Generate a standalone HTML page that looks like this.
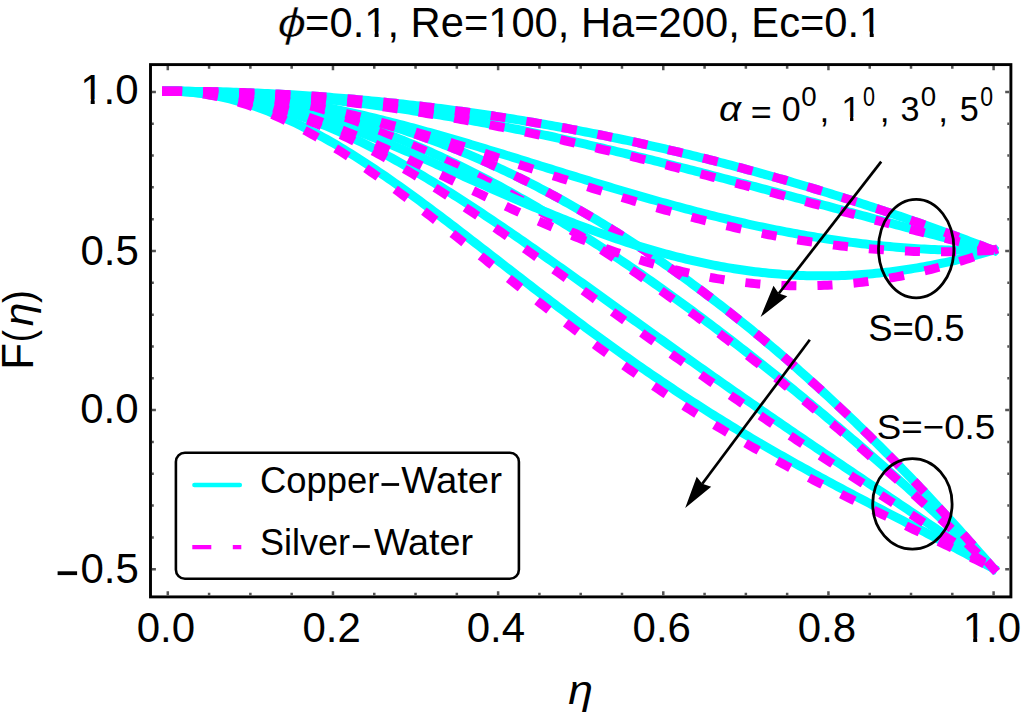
<!DOCTYPE html><html><head><meta charset='utf-8'><style>html,body{margin:0;padding:0;background:#fff;overflow:hidden;}svg{display:block}</style></head><body>
<svg width='1024' height='717' viewBox='0 0 1024 717'>
<rect width='1024' height='717' fill='#fff'/>
<text stroke='#fff' stroke-width='0.5' transform='matrix(1.2289,0,0,0.9605,277.46,37.30)' font-family='Liberation Sans' font-size='42' font-style='italic'>ϕ</text>
<g transform='matrix(0.9931,0,0,1.0084,305.11,36.50)'><text font-family='Liberation Sans' font-size='42' >=0.1, Re=100, Ha=200, Ec=0.1</text><rect x='61.35' y='-5' width='8.65' height='5.8' fill='#fff'/><rect x='74.00' y='-5' width='8.55' height='5.8' fill='#fff'/><rect x='186.25' y='-5' width='8.65' height='5.8' fill='#fff'/><rect x='198.90' y='-5' width='8.55' height='5.8' fill='#fff'/><rect x='559.88' y='-5' width='8.65' height='5.8' fill='#fff'/><rect x='572.53' y='-5' width='8.55' height='5.8' fill='#fff'/></g>
<path fill='none' stroke='#00ffff' stroke-width='9.0' stroke-linecap='square' stroke-linejoin='round' d='M167.60,91.20 L171.06,91.21 L174.51,91.23 L177.97,91.28 L181.42,91.33 L184.88,91.41 L188.33,91.50 L191.79,91.61 L195.24,91.73 L198.70,91.88 L202.15,92.04 L205.61,92.21 L209.06,92.40 L212.52,92.61 L215.97,92.84 L219.43,93.08 L222.88,93.34 L226.34,93.61 L229.79,93.91 L233.25,94.22 L236.70,94.54 L240.16,94.88 L243.62,95.24 L247.07,95.62 L250.53,96.01 L253.98,96.42 L257.44,96.85 L260.89,97.29 L264.35,97.75 L267.80,98.23 L271.26,98.72 L274.71,99.23 L278.17,99.76 L281.62,100.30 L285.08,100.86 L288.53,101.44 L291.99,102.03 L295.44,102.64 L298.90,103.27 L302.35,103.91 L305.81,104.57 L309.26,105.25 L312.72,105.94 L316.17,106.65 L319.63,107.38 L323.09,108.12 L326.54,108.88 L330.00,109.66 L333.45,110.45 L336.91,111.26 L340.36,112.09 L343.82,112.93 L347.27,113.79 L350.73,114.67 L354.18,115.57 L357.64,116.48 L361.09,117.40 L364.55,118.35 L368.00,119.31 L371.46,120.29 L374.91,121.28 L378.37,122.29 L381.82,123.32 L385.28,124.36 L388.73,125.43 L392.19,126.50 L395.65,127.60 L399.10,128.71 L402.56,129.84 L406.01,130.98 L409.47,132.14 L412.92,133.32 L416.38,134.52 L419.83,135.73 L423.29,136.96 L426.74,138.20 L430.20,139.46 L433.65,140.74 L437.11,142.04 L440.56,143.35 L444.02,144.68 L447.47,146.02 L450.93,147.39 L454.38,148.76 L457.84,150.16 L461.29,151.57 L464.75,153.00 L468.21,154.45 L471.66,155.91 L475.12,157.39 L478.57,158.88 L482.03,160.40 L485.48,161.92 L488.94,163.47 L492.39,165.03 L495.85,166.61 L499.30,168.21 L502.76,169.82 L506.21,171.45 L509.67,173.10 L513.12,174.76 L516.58,176.44 L520.03,178.14 L523.49,179.85 L526.94,181.58 L530.40,183.32 L533.85,185.09 L537.31,186.87 L540.76,188.66 L544.22,190.48 L547.68,192.31 L551.13,194.15 L554.59,196.02 L558.04,197.90 L561.50,199.79 L564.95,201.71 L568.41,203.64 L571.86,205.58 L575.32,207.55 L578.77,209.53 L582.23,211.53 L585.68,213.54 L589.14,215.57 L592.59,217.62 L596.05,219.68 L599.50,221.76 L602.96,223.86 L606.41,225.97 L609.87,228.10 L613.32,230.25 L616.78,232.42 L620.24,234.60 L623.69,236.79 L627.15,239.01 L630.60,241.24 L634.06,243.49 L637.51,245.75 L640.97,248.03 L644.42,250.33 L647.88,252.65 L651.33,254.98 L654.79,257.32 L658.24,259.69 L661.70,262.07 L665.15,264.47 L668.61,266.88 L672.06,269.32 L675.52,271.76 L678.97,274.23 L682.43,276.71 L685.88,279.21 L689.34,281.72 L692.79,284.26 L696.25,286.80 L699.71,289.37 L703.16,291.95 L706.62,294.55 L710.07,297.17 L713.53,299.80 L716.98,302.45 L720.44,305.11 L723.89,307.79 L727.35,310.49 L730.80,313.21 L734.26,315.94 L737.71,318.69 L741.17,321.46 L744.62,324.24 L748.08,327.04 L751.53,329.85 L754.99,332.69 L758.44,335.54 L761.90,338.40 L765.35,341.29 L768.81,344.18 L772.27,347.10 L775.72,350.03 L779.18,352.98 L782.63,355.95 L786.09,358.93 L789.54,361.93 L793.00,364.95 L796.45,367.98 L799.91,371.03 L803.36,374.10 L806.82,377.18 L810.27,380.28 L813.73,383.40 L817.18,386.53 L820.64,389.68 L824.09,392.85 L827.55,396.03 L831.00,399.23 L834.46,402.45 L837.91,405.68 L841.37,408.93 L844.83,412.20 L848.28,415.49 L851.74,418.79 L855.19,422.10 L858.65,425.44 L862.10,428.79 L865.56,432.16 L869.01,435.54 L872.47,438.94 L875.92,442.36 L879.38,445.79 L882.83,449.24 L886.29,452.71 L889.74,456.20 L893.20,459.70 L896.65,463.22 L900.11,466.75 L903.56,470.30 L907.02,473.87 L910.47,477.45 L913.93,481.06 L917.38,484.67 L920.84,488.31 L924.30,491.96 L927.75,495.63 L931.21,499.31 L934.66,503.01 L938.12,506.73 L941.57,510.47 L945.03,514.22 L948.48,517.99 L951.94,521.77 L955.39,525.58 L958.85,529.39 L962.30,533.23 L965.76,537.08 L969.21,540.95 L972.67,544.84 L976.12,548.74 L979.58,552.66 L983.03,556.59 L986.49,560.55 L989.94,564.51 L993.40,568.50'/>
<path fill='none' stroke='#00ffff' stroke-width='9.0' stroke-linecap='square' stroke-linejoin='round' d='M167.60,91.20 L171.06,91.21 L174.51,91.24 L177.97,91.30 L181.42,91.37 L184.88,91.47 L188.33,91.59 L191.79,91.74 L195.24,91.90 L198.70,92.09 L202.15,92.29 L205.61,92.52 L209.06,92.77 L212.52,93.05 L215.97,93.34 L219.43,93.66 L222.88,94.00 L226.34,94.35 L229.79,94.74 L233.25,95.14 L236.70,95.56 L240.16,96.01 L243.62,96.48 L247.07,96.97 L250.53,97.48 L253.98,98.01 L257.44,98.56 L260.89,99.13 L264.35,99.73 L267.80,100.35 L271.26,100.98 L274.71,101.64 L278.17,102.32 L281.62,103.02 L285.08,103.74 L288.53,104.49 L291.99,105.25 L295.44,106.03 L298.90,106.84 L302.35,107.66 L305.81,108.51 L309.26,109.38 L312.72,110.26 L316.17,111.17 L319.63,112.10 L323.09,113.04 L326.54,114.01 L330.00,115.00 L333.45,116.01 L336.91,117.03 L340.36,118.08 L343.82,119.15 L347.27,120.24 L350.73,121.34 L354.18,122.47 L357.64,123.61 L361.09,124.78 L364.55,125.96 L368.00,127.16 L371.46,128.39 L374.91,129.63 L378.37,130.89 L381.82,132.16 L385.28,133.46 L388.73,134.78 L392.19,136.11 L395.65,137.46 L399.10,138.83 L402.56,140.22 L406.01,141.63 L409.47,143.06 L412.92,144.50 L416.38,145.96 L419.83,147.44 L423.29,148.93 L426.74,150.45 L430.20,151.98 L433.65,153.53 L437.11,155.09 L440.56,156.68 L444.02,158.28 L447.47,159.89 L450.93,161.53 L454.38,163.18 L457.84,164.84 L461.29,166.53 L464.75,168.23 L468.21,169.94 L471.66,171.67 L475.12,173.42 L478.57,175.18 L482.03,176.96 L485.48,178.76 L488.94,180.57 L492.39,182.40 L495.85,184.24 L499.30,186.09 L502.76,187.97 L506.21,189.85 L509.67,191.75 L513.12,193.67 L516.58,195.60 L520.03,197.55 L523.49,199.51 L526.94,201.49 L530.40,203.47 L533.85,205.48 L537.31,207.50 L540.76,209.53 L544.22,211.57 L547.68,213.63 L551.13,215.70 L554.59,217.79 L558.04,219.89 L561.50,222.00 L564.95,224.13 L568.41,226.27 L571.86,228.42 L575.32,230.59 L578.77,232.77 L582.23,234.96 L585.68,237.16 L589.14,239.38 L592.59,241.61 L596.05,243.85 L599.50,246.10 L602.96,248.36 L606.41,250.64 L609.87,252.93 L613.32,255.23 L616.78,257.55 L620.24,259.87 L623.69,262.21 L627.15,264.55 L630.60,266.91 L634.06,269.28 L637.51,271.66 L640.97,274.06 L644.42,276.46 L647.88,278.88 L651.33,281.30 L654.79,283.74 L658.24,286.18 L661.70,288.64 L665.15,291.11 L668.61,293.59 L672.06,296.08 L675.52,298.58 L678.97,301.09 L682.43,303.61 L685.88,306.14 L689.34,308.68 L692.79,311.23 L696.25,313.79 L699.71,316.36 L703.16,318.94 L706.62,321.53 L710.07,324.13 L713.53,326.74 L716.98,329.36 L720.44,331.98 L723.89,334.62 L727.35,337.27 L730.80,339.93 L734.26,342.59 L737.71,345.27 L741.17,347.95 L744.62,350.64 L748.08,353.35 L751.53,356.06 L754.99,358.78 L758.44,361.51 L761.90,364.25 L765.35,366.99 L768.81,369.75 L772.27,372.52 L775.72,375.29 L779.18,378.08 L782.63,380.87 L786.09,383.67 L789.54,386.48 L793.00,389.30 L796.45,392.12 L799.91,394.96 L803.36,397.81 L806.82,400.66 L810.27,403.52 L813.73,406.39 L817.18,409.27 L820.64,412.16 L824.09,415.06 L827.55,417.97 L831.00,420.88 L834.46,423.81 L837.91,426.74 L841.37,429.68 L844.83,432.63 L848.28,435.59 L851.74,438.56 L855.19,441.53 L858.65,444.52 L862.10,447.51 L865.56,450.52 L869.01,453.53 L872.47,456.55 L875.92,459.58 L879.38,462.62 L882.83,465.67 L886.29,468.73 L889.74,471.80 L893.20,474.88 L896.65,477.96 L900.11,481.06 L903.56,484.16 L907.02,487.28 L910.47,490.40 L913.93,493.54 L917.38,496.68 L920.84,499.83 L924.30,503.00 L927.75,506.17 L931.21,509.36 L934.66,512.55 L938.12,515.75 L941.57,518.97 L945.03,522.19 L948.48,525.43 L951.94,528.68 L955.39,531.93 L958.85,535.20 L962.30,538.48 L965.76,541.77 L969.21,545.07 L972.67,548.38 L976.12,551.71 L979.58,555.04 L983.03,558.39 L986.49,561.75 L989.94,565.12 L993.40,568.50'/>
<path fill='none' stroke='#00ffff' stroke-width='9.0' stroke-linecap='square' stroke-linejoin='round' d='M167.60,91.20 L171.06,91.22 L174.51,91.27 L177.97,91.36 L181.42,91.48 L184.88,91.63 L188.33,91.82 L191.79,92.04 L195.24,92.30 L198.70,92.60 L202.15,92.92 L205.61,93.28 L209.06,93.68 L212.52,94.11 L215.97,94.57 L219.43,95.06 L222.88,95.59 L226.34,96.16 L229.79,96.75 L233.25,97.38 L236.70,98.05 L240.16,98.74 L243.62,99.47 L247.07,100.23 L250.53,101.02 L253.98,101.85 L257.44,102.71 L260.89,103.60 L264.35,104.52 L267.80,105.47 L271.26,106.45 L274.71,107.46 L278.17,108.51 L281.62,109.58 L285.08,110.69 L288.53,111.82 L291.99,112.99 L295.44,114.18 L298.90,115.40 L302.35,116.66 L305.81,117.94 L309.26,119.24 L312.72,120.58 L316.17,121.95 L319.63,123.34 L323.09,124.76 L326.54,126.20 L330.00,127.67 L333.45,129.17 L336.91,130.69 L340.36,132.24 L343.82,133.82 L347.27,135.42 L350.73,137.04 L354.18,138.69 L357.64,140.36 L361.09,142.05 L364.55,143.77 L368.00,145.51 L371.46,147.28 L374.91,149.06 L378.37,150.87 L381.82,152.70 L385.28,154.55 L388.73,156.41 L392.19,158.30 L395.65,160.21 L399.10,162.14 L402.56,164.09 L406.01,166.06 L409.47,168.05 L412.92,170.05 L416.38,172.07 L419.83,174.11 L423.29,176.17 L426.74,178.24 L430.20,180.33 L433.65,182.43 L437.11,184.55 L440.56,186.69 L444.02,188.83 L447.47,191.00 L450.93,193.18 L454.38,195.37 L457.84,197.57 L461.29,199.79 L464.75,202.02 L468.21,204.27 L471.66,206.52 L475.12,208.79 L478.57,211.07 L482.03,213.35 L485.48,215.65 L488.94,217.96 L492.39,220.28 L495.85,222.61 L499.30,224.95 L502.76,227.30 L506.21,229.65 L509.67,232.02 L513.12,234.39 L516.58,236.77 L520.03,239.15 L523.49,241.55 L526.94,243.95 L530.40,246.35 L533.85,248.77 L537.31,251.18 L540.76,253.61 L544.22,256.04 L547.68,258.47 L551.13,260.91 L554.59,263.35 L558.04,265.80 L561.50,268.25 L564.95,270.71 L568.41,273.17 L571.86,275.63 L575.32,278.09 L578.77,280.56 L582.23,283.03 L585.68,285.50 L589.14,287.98 L592.59,290.45 L596.05,292.93 L599.50,295.41 L602.96,297.89 L606.41,300.37 L609.87,302.85 L613.32,305.33 L616.78,307.81 L620.24,310.29 L623.69,312.78 L627.15,315.26 L630.60,317.74 L634.06,320.22 L637.51,322.70 L640.97,325.18 L644.42,327.66 L647.88,330.14 L651.33,332.61 L654.79,335.09 L658.24,337.56 L661.70,340.03 L665.15,342.50 L668.61,344.97 L672.06,347.43 L675.52,349.90 L678.97,352.36 L682.43,354.82 L685.88,357.27 L689.34,359.73 L692.79,362.18 L696.25,364.63 L699.71,367.07 L703.16,369.52 L706.62,371.96 L710.07,374.40 L713.53,376.83 L716.98,379.26 L720.44,381.69 L723.89,384.12 L727.35,386.54 L730.80,388.96 L734.26,391.38 L737.71,393.79 L741.17,396.20 L744.62,398.61 L748.08,401.01 L751.53,403.41 L754.99,405.81 L758.44,408.21 L761.90,410.60 L765.35,412.99 L768.81,415.37 L772.27,417.75 L775.72,420.13 L779.18,422.51 L782.63,424.88 L786.09,427.25 L789.54,429.62 L793.00,431.98 L796.45,434.35 L799.91,436.71 L803.36,439.06 L806.82,441.42 L810.27,443.77 L813.73,446.12 L817.18,448.46 L820.64,450.81 L824.09,453.15 L827.55,455.49 L831.00,457.83 L834.46,460.17 L837.91,462.50 L841.37,464.84 L844.83,467.17 L848.28,469.50 L851.74,471.83 L855.19,474.16 L858.65,476.49 L862.10,478.81 L865.56,481.14 L869.01,483.47 L872.47,485.79 L875.92,488.12 L879.38,490.44 L882.83,492.77 L886.29,495.09 L889.74,497.42 L893.20,499.75 L896.65,502.08 L900.11,504.40 L903.56,506.74 L907.02,509.07 L910.47,511.40 L913.93,513.74 L917.38,516.07 L920.84,518.41 L924.30,520.75 L927.75,523.10 L931.21,525.45 L934.66,527.80 L938.12,530.15 L941.57,532.51 L945.03,534.87 L948.48,537.24 L951.94,539.61 L955.39,541.98 L958.85,544.36 L962.30,546.75 L965.76,549.14 L969.21,551.54 L972.67,553.94 L976.12,556.35 L979.58,558.76 L983.03,561.19 L986.49,563.62 L989.94,566.05 L993.40,568.50'/>
<path fill='none' stroke='#00ffff' stroke-width='9.0' stroke-linecap='square' stroke-linejoin='round' d='M167.60,91.20 L171.06,91.22 L174.51,91.30 L177.97,91.42 L181.42,91.59 L184.88,91.81 L188.33,92.07 L191.79,92.39 L195.24,92.75 L198.70,93.16 L202.15,93.62 L205.61,94.13 L209.06,94.69 L212.52,95.29 L215.97,95.94 L219.43,96.63 L222.88,97.37 L226.34,98.16 L229.79,99.00 L233.25,99.87 L236.70,100.80 L240.16,101.77 L243.62,102.78 L247.07,103.84 L250.53,104.94 L253.98,106.09 L257.44,107.28 L260.89,108.51 L264.35,109.78 L267.80,111.09 L271.26,112.45 L274.71,113.84 L278.17,115.28 L281.62,116.75 L285.08,118.27 L288.53,119.82 L291.99,121.41 L295.44,123.04 L298.90,124.70 L302.35,126.40 L305.81,128.13 L309.26,129.90 L312.72,131.71 L316.17,133.55 L319.63,135.42 L323.09,137.32 L326.54,139.25 L330.00,141.22 L333.45,143.21 L336.91,145.24 L340.36,147.29 L343.82,149.38 L347.27,151.49 L350.73,153.62 L354.18,155.79 L357.64,157.98 L361.09,160.19 L364.55,162.43 L368.00,164.69 L371.46,166.98 L374.91,169.28 L378.37,171.61 L381.82,173.96 L385.28,176.33 L388.73,178.72 L392.19,181.13 L395.65,183.56 L399.10,186.00 L402.56,188.46 L406.01,190.94 L409.47,193.43 L412.92,195.94 L416.38,198.46 L419.83,200.99 L423.29,203.54 L426.74,206.10 L430.20,208.67 L433.65,211.25 L437.11,213.85 L440.56,216.45 L444.02,219.06 L447.47,221.68 L450.93,224.31 L454.38,226.94 L457.84,229.58 L461.29,232.23 L464.75,234.88 L468.21,237.54 L471.66,240.20 L475.12,242.87 L478.57,245.54 L482.03,248.21 L485.48,250.89 L488.94,253.57 L492.39,256.24 L495.85,258.92 L499.30,261.60 L502.76,264.28 L506.21,266.96 L509.67,269.64 L513.12,272.32 L516.58,274.99 L520.03,277.66 L523.49,280.33 L526.94,283.00 L530.40,285.66 L533.85,288.32 L537.31,290.98 L540.76,293.63 L544.22,296.27 L547.68,298.91 L551.13,301.55 L554.59,304.18 L558.04,306.80 L561.50,309.41 L564.95,312.02 L568.41,314.63 L571.86,317.22 L575.32,319.81 L578.77,322.39 L582.23,324.96 L585.68,327.52 L589.14,330.07 L592.59,332.62 L596.05,335.15 L599.50,337.68 L602.96,340.20 L606.41,342.71 L609.87,345.20 L613.32,347.69 L616.78,350.17 L620.24,352.64 L623.69,355.10 L627.15,357.54 L630.60,359.98 L634.06,362.40 L637.51,364.82 L640.97,367.22 L644.42,369.62 L647.88,372.00 L651.33,374.37 L654.79,376.73 L658.24,379.08 L661.70,381.42 L665.15,383.74 L668.61,386.06 L672.06,388.36 L675.52,390.65 L678.97,392.93 L682.43,395.20 L685.88,397.46 L689.34,399.70 L692.79,401.94 L696.25,404.16 L699.71,406.38 L703.16,408.58 L706.62,410.77 L710.07,412.95 L713.53,415.11 L716.98,417.27 L720.44,419.42 L723.89,421.55 L727.35,423.68 L730.80,425.79 L734.26,427.89 L737.71,429.98 L741.17,432.07 L744.62,434.14 L748.08,436.20 L751.53,438.25 L754.99,440.29 L758.44,442.32 L761.90,444.34 L765.35,446.36 L768.81,448.36 L772.27,450.35 L775.72,452.34 L779.18,454.31 L782.63,456.28 L786.09,458.24 L789.54,460.18 L793.00,462.13 L796.45,464.06 L799.91,465.98 L803.36,467.90 L806.82,469.81 L810.27,471.71 L813.73,473.61 L817.18,475.50 L820.64,477.38 L824.09,479.25 L827.55,481.12 L831.00,482.98 L834.46,484.84 L837.91,486.69 L841.37,488.53 L844.83,490.37 L848.28,492.21 L851.74,494.04 L855.19,495.86 L858.65,497.69 L862.10,499.50 L865.56,501.32 L869.01,503.13 L872.47,504.93 L875.92,506.74 L879.38,508.54 L882.83,510.34 L886.29,512.13 L889.74,513.93 L893.20,515.72 L896.65,517.51 L900.11,519.31 L903.56,521.10 L907.02,522.89 L910.47,524.68 L913.93,526.47 L917.38,528.26 L920.84,530.05 L924.30,531.84 L927.75,533.64 L931.21,535.43 L934.66,537.23 L938.12,539.03 L941.57,540.84 L945.03,542.64 L948.48,544.45 L951.94,546.27 L955.39,548.09 L958.85,549.91 L962.30,551.74 L965.76,553.58 L969.21,555.42 L972.67,557.26 L976.12,559.12 L979.58,560.98 L983.03,562.85 L986.49,564.72 L989.94,566.61 L993.40,568.50'/>
<path fill='none' stroke='#ff00ff' stroke-width='9.0' stroke-linecap='butt' stroke-linejoin='round' stroke-dasharray='20 21.05 15.05 21.05 15.05 21.05 15.05 21.05 15.05 21.05 15.05 21.05 15.05 21.05 15.05 21.05 15.05 21.05 15.05 21.05 15.05 21.05 15.05 21.05 15.05 21.05 15.05 21.05 15.05 21.05 15.05 21.05 15.05 21.05 15.05 21.05 15.05 21.05 15.05 21.05 15.05 21.05 15.05 21.05 15.05 21.05 15.05 21.05 15.05 21.05 15.05 21.05 15.05 21.05 15.05 21.05 15.05 21.05 15.05 21.05 15.05 21.05 15.05 21.05 15.05 21.05 15.05 21.05 15.05 21.05 15.05 21.05 15.05 21.05 15.05 21.05 15.05 21.05 15.05 21.05 15.05 21.05 ' d='M162.10,91.19 L167.60,91.20 L171.06,91.21 L174.51,91.23 L177.97,91.28 L181.42,91.33 L184.88,91.41 L188.33,91.50 L191.79,91.61 L195.24,91.73 L198.70,91.88 L202.15,92.04 L205.61,92.21 L209.06,92.40 L212.52,92.61 L215.97,92.84 L219.43,93.08 L222.88,93.34 L226.34,93.61 L229.79,93.91 L233.25,94.22 L236.70,94.54 L240.16,94.88 L243.62,95.24 L247.07,95.62 L250.53,96.01 L253.98,96.42 L257.44,96.85 L260.89,97.29 L264.35,97.75 L267.80,98.23 L271.26,98.72 L274.71,99.23 L278.17,99.76 L281.62,100.30 L285.08,100.86 L288.53,101.44 L291.99,102.03 L295.44,102.64 L298.90,103.27 L302.35,103.91 L305.81,104.57 L309.26,105.25 L312.72,105.94 L316.17,106.65 L319.63,107.38 L323.09,108.12 L326.54,108.88 L330.00,109.66 L333.45,110.45 L336.91,111.26 L340.36,112.09 L343.82,112.93 L347.27,113.79 L350.73,114.67 L354.18,115.57 L357.64,116.48 L361.09,117.40 L364.55,118.35 L368.00,119.31 L371.46,120.29 L374.91,121.28 L378.37,122.29 L381.82,123.32 L385.28,124.36 L388.73,125.43 L392.19,126.50 L395.65,127.60 L399.10,128.71 L402.56,129.84 L406.01,130.98 L409.47,132.14 L412.92,133.32 L416.38,134.52 L419.83,135.73 L423.29,136.96 L426.74,138.20 L430.20,139.46 L433.65,140.74 L437.11,142.04 L440.56,143.35 L444.02,144.68 L447.47,146.02 L450.93,147.39 L454.38,148.76 L457.84,150.16 L461.29,151.57 L464.75,153.00 L468.21,154.45 L471.66,155.91 L475.12,157.39 L478.57,158.88 L482.03,160.40 L485.48,161.92 L488.94,163.47 L492.39,165.03 L495.85,166.61 L499.30,168.21 L502.76,169.82 L506.21,171.45 L509.67,173.10 L513.12,174.76 L516.58,176.44 L520.03,178.14 L523.49,179.85 L526.94,181.58 L530.40,183.32 L533.85,185.09 L537.31,186.87 L540.76,188.66 L544.22,190.48 L547.68,192.31 L551.13,194.15 L554.59,196.02 L558.04,197.90 L561.50,199.79 L564.95,201.71 L568.41,203.64 L571.86,205.58 L575.32,207.55 L578.77,209.53 L582.23,211.53 L585.68,213.54 L589.14,215.57 L592.59,217.62 L596.05,219.68 L599.50,221.76 L602.96,223.86 L606.41,225.97 L609.87,228.10 L613.32,230.25 L616.78,232.42 L620.24,234.60 L623.69,236.79 L627.15,239.01 L630.60,241.24 L634.06,243.49 L637.51,245.75 L640.97,248.03 L644.42,250.33 L647.88,252.65 L651.33,254.98 L654.79,257.32 L658.24,259.69 L661.70,262.07 L665.15,264.47 L668.61,266.88 L672.06,269.32 L675.52,271.76 L678.97,274.23 L682.43,276.71 L685.88,279.21 L689.34,281.72 L692.79,284.26 L696.25,286.80 L699.71,289.37 L703.16,291.95 L706.62,294.55 L710.07,297.17 L713.53,299.80 L716.98,302.45 L720.44,305.11 L723.89,307.79 L727.35,310.49 L730.80,313.21 L734.26,315.94 L737.71,318.69 L741.17,321.46 L744.62,324.24 L748.08,327.04 L751.53,329.85 L754.99,332.69 L758.44,335.54 L761.90,338.40 L765.35,341.29 L768.81,344.18 L772.27,347.10 L775.72,350.03 L779.18,352.98 L782.63,355.95 L786.09,358.93 L789.54,361.93 L793.00,364.95 L796.45,367.98 L799.91,371.03 L803.36,374.10 L806.82,377.18 L810.27,380.28 L813.73,383.40 L817.18,386.53 L820.64,389.68 L824.09,392.85 L827.55,396.03 L831.00,399.23 L834.46,402.45 L837.91,405.68 L841.37,408.93 L844.83,412.20 L848.28,415.49 L851.74,418.79 L855.19,422.10 L858.65,425.44 L862.10,428.79 L865.56,432.16 L869.01,435.54 L872.47,438.94 L875.92,442.36 L879.38,445.79 L882.83,449.24 L886.29,452.71 L889.74,456.20 L893.20,459.70 L896.65,463.22 L900.11,466.75 L903.56,470.30 L907.02,473.87 L910.47,477.45 L913.93,481.06 L917.38,484.67 L920.84,488.31 L924.30,491.96 L927.75,495.63 L931.21,499.31 L934.66,503.01 L938.12,506.73 L941.57,510.47 L945.03,514.22 L948.48,517.99 L951.94,521.77 L955.39,525.58 L958.85,529.39 L962.30,533.23 L965.76,537.08 L969.21,540.95 L972.67,544.84 L976.12,548.74 L979.58,552.66 L983.03,556.59 L986.49,560.55 L989.94,564.51 L993.40,568.50 L996.35,571.90'/>
<path fill='none' stroke='#ff00ff' stroke-width='9.0' stroke-linecap='butt' stroke-linejoin='round' stroke-dasharray='20 21.05 15.05 21.05 15.05 21.05 15.05 21.05 15.05 21.05 15.05 21.05 15.05 21.05 15.05 21.05 15.05 21.05 15.05 21.05 15.05 21.05 15.05 21.05 15.05 21.05 15.05 21.05 15.05 21.05 15.05 21.05 15.05 21.05 15.05 21.05 15.05 21.05 15.05 21.05 15.05 21.05 15.05 21.05 15.05 21.05 15.05 21.05 15.05 21.05 15.05 21.05 15.05 21.05 15.05 21.05 15.05 21.05 15.05 21.05 15.05 21.05 15.05 21.05 15.05 21.05 15.05 21.05 15.05 21.05 15.05 21.05 15.05 21.05 15.05 21.05 15.05 21.05 15.05 21.05 15.05 21.05 ' d='M162.10,91.18 L167.60,91.20 L171.06,91.21 L174.51,91.24 L177.97,91.30 L181.42,91.38 L184.88,91.48 L188.33,91.60 L191.79,91.75 L195.24,91.92 L198.70,92.11 L202.15,92.32 L205.61,92.55 L209.06,92.81 L212.52,93.09 L215.97,93.39 L219.43,93.71 L222.88,94.06 L226.34,94.43 L229.79,94.82 L233.25,95.23 L236.70,95.66 L240.16,96.12 L243.62,96.60 L247.07,97.10 L250.53,97.62 L253.98,98.16 L257.44,98.73 L260.89,99.32 L264.35,99.92 L267.80,100.55 L271.26,101.21 L274.71,101.88 L278.17,102.57 L281.62,103.29 L285.08,104.03 L288.53,104.79 L291.99,105.57 L295.44,106.37 L298.90,107.19 L302.35,108.03 L305.81,108.90 L309.26,109.78 L312.72,110.69 L316.17,111.61 L319.63,112.56 L323.09,113.53 L326.54,114.52 L330.00,115.52 L333.45,116.55 L336.91,117.60 L340.36,118.67 L343.82,119.76 L347.27,120.87 L350.73,121.99 L354.18,123.14 L357.64,124.31 L361.09,125.50 L364.55,126.70 L368.00,127.93 L371.46,129.18 L374.91,130.44 L378.37,131.72 L381.82,133.03 L385.28,134.35 L388.73,135.69 L392.19,137.05 L395.65,138.42 L399.10,139.82 L402.56,141.23 L406.01,142.67 L409.47,144.12 L412.92,145.58 L416.38,147.07 L419.83,148.57 L423.29,150.10 L426.74,151.63 L430.20,153.19 L433.65,154.76 L437.11,156.36 L440.56,157.96 L444.02,159.59 L447.47,161.23 L450.93,162.89 L454.38,164.56 L457.84,166.26 L461.29,167.96 L464.75,169.69 L468.21,171.43 L471.66,173.19 L475.12,174.96 L478.57,176.75 L482.03,178.55 L485.48,180.37 L488.94,182.21 L492.39,184.06 L495.85,185.92 L499.30,187.80 L502.76,189.70 L506.21,191.61 L509.67,193.53 L513.12,195.47 L516.58,197.43 L520.03,199.40 L523.49,201.38 L526.94,203.37 L530.40,205.39 L533.85,207.41 L537.31,209.45 L540.76,211.50 L544.22,213.57 L547.68,215.65 L551.13,217.74 L554.59,219.85 L558.04,221.96 L561.50,224.10 L564.95,226.24 L568.41,228.40 L571.86,230.57 L575.32,232.75 L578.77,234.95 L582.23,237.15 L585.68,239.37 L589.14,241.61 L592.59,243.85 L596.05,246.10 L599.50,248.37 L602.96,250.65 L606.41,252.94 L609.87,255.24 L613.32,257.56 L616.78,259.88 L620.24,262.22 L623.69,264.56 L627.15,266.92 L630.60,269.29 L634.06,271.67 L637.51,274.06 L640.97,276.46 L644.42,278.87 L647.88,281.30 L651.33,283.73 L654.79,286.17 L658.24,288.62 L661.70,291.09 L665.15,293.56 L668.61,296.04 L672.06,298.53 L675.52,301.04 L678.97,303.55 L682.43,306.07 L685.88,308.60 L689.34,311.14 L692.79,313.69 L696.25,316.25 L699.71,318.82 L703.16,321.40 L706.62,323.98 L710.07,326.58 L713.53,329.18 L716.98,331.80 L720.44,334.42 L723.89,337.05 L727.35,339.69 L730.80,342.34 L734.26,345.00 L737.71,347.67 L741.17,350.34 L744.62,353.02 L748.08,355.72 L751.53,358.42 L754.99,361.12 L758.44,363.84 L761.90,366.57 L765.35,369.30 L768.81,372.04 L772.27,374.79 L775.72,377.55 L779.18,380.32 L782.63,383.09 L786.09,385.88 L789.54,388.67 L793.00,391.47 L796.45,394.28 L799.91,397.09 L803.36,399.91 L806.82,402.75 L810.27,405.59 L813.73,408.43 L817.18,411.29 L820.64,414.15 L824.09,417.03 L827.55,419.91 L831.00,422.80 L834.46,425.69 L837.91,428.60 L841.37,431.51 L844.83,434.43 L848.28,437.36 L851.74,440.30 L855.19,443.24 L858.65,446.20 L862.10,449.16 L865.56,452.13 L869.01,455.11 L872.47,458.10 L875.92,461.09 L879.38,464.10 L882.83,467.11 L886.29,470.13 L889.74,473.16 L893.20,476.20 L896.65,479.25 L900.11,482.31 L903.56,485.37 L907.02,488.45 L910.47,491.53 L913.93,494.62 L917.38,497.73 L920.84,500.84 L924.30,503.96 L927.75,507.09 L931.21,510.23 L934.66,513.38 L938.12,516.54 L941.57,519.71 L945.03,522.89 L948.48,526.07 L951.94,529.27 L955.39,532.48 L958.85,535.70 L962.30,538.93 L965.76,542.17 L969.21,545.43 L972.67,548.69 L976.12,551.96 L979.58,555.25 L983.03,558.54 L986.49,561.85 L989.94,565.17 L993.40,568.50 L996.64,571.62'/>
<path fill='none' stroke='#ff00ff' stroke-width='9.0' stroke-linecap='butt' stroke-linejoin='round' stroke-dasharray='20 21.05 15.05 21.05 15.05 21.05 15.05 21.05 15.05 21.05 15.05 21.05 15.05 21.05 15.05 21.05 15.05 21.05 15.05 21.05 15.05 21.05 15.05 21.05 15.05 21.05 15.05 21.05 15.05 21.05 15.05 21.05 15.05 21.05 15.05 21.05 15.05 21.05 15.05 21.05 15.05 21.05 15.05 21.05 15.05 21.05 15.05 21.05 15.05 21.05 15.05 21.05 15.05 21.05 15.05 21.05 15.05 21.05 15.05 21.05 15.05 21.05 15.05 21.05 15.05 21.05 15.05 21.05 15.05 21.05 15.05 21.05 15.05 21.05 15.05 21.05 15.05 21.05 15.05 21.05 15.05 21.05 ' d='M162.10,91.17 L167.60,91.20 L171.06,91.22 L174.51,91.27 L177.97,91.36 L181.42,91.49 L184.88,91.66 L188.33,91.86 L191.79,92.09 L195.24,92.37 L198.70,92.68 L202.15,93.02 L205.61,93.41 L209.06,93.82 L212.52,94.28 L215.97,94.77 L219.43,95.29 L222.88,95.85 L226.34,96.45 L229.79,97.08 L233.25,97.74 L236.70,98.45 L240.16,99.18 L243.62,99.95 L247.07,100.75 L250.53,101.59 L253.98,102.47 L257.44,103.37 L260.89,104.31 L264.35,105.28 L267.80,106.29 L271.26,107.32 L274.71,108.39 L278.17,109.50 L281.62,110.63 L285.08,111.80 L288.53,112.99 L291.99,114.22 L295.44,115.48 L298.90,116.77 L302.35,118.08 L305.81,119.43 L309.26,120.81 L312.72,122.22 L316.17,123.65 L319.63,125.12 L323.09,126.61 L326.54,128.13 L330.00,129.67 L333.45,131.25 L336.91,132.85 L340.36,134.47 L343.82,136.12 L347.27,137.80 L350.73,139.50 L354.18,141.23 L357.64,142.98 L361.09,144.76 L364.55,146.56 L368.00,148.38 L371.46,150.22 L374.91,152.09 L378.37,153.98 L381.82,155.89 L385.28,157.82 L388.73,159.77 L392.19,161.75 L395.65,163.74 L399.10,165.75 L402.56,167.78 L406.01,169.83 L409.47,171.90 L412.92,173.98 L416.38,176.09 L419.83,178.21 L423.29,180.34 L426.74,182.49 L430.20,184.66 L433.65,186.85 L437.11,189.05 L440.56,191.26 L444.02,193.49 L447.47,195.73 L450.93,197.98 L454.38,200.25 L457.84,202.53 L461.29,204.82 L464.75,207.13 L468.21,209.44 L471.66,211.77 L475.12,214.11 L478.57,216.45 L482.03,218.81 L485.48,221.18 L488.94,223.55 L492.39,225.94 L495.85,228.33 L499.30,230.73 L502.76,233.14 L506.21,235.56 L509.67,237.98 L513.12,240.41 L516.58,242.85 L520.03,245.29 L523.49,247.74 L526.94,250.20 L530.40,252.65 L533.85,255.12 L537.31,257.59 L540.76,260.06 L544.22,262.53 L547.68,265.01 L551.13,267.50 L554.59,269.98 L558.04,272.47 L561.50,274.96 L564.95,277.45 L568.41,279.95 L571.86,282.44 L575.32,284.94 L578.77,287.44 L582.23,289.94 L585.68,292.44 L589.14,294.94 L592.59,297.44 L596.05,299.94 L599.50,302.44 L602.96,304.94 L606.41,307.44 L609.87,309.93 L613.32,312.43 L616.78,314.93 L620.24,317.42 L623.69,319.91 L627.15,322.40 L630.60,324.89 L634.06,327.37 L637.51,329.86 L640.97,332.34 L644.42,334.82 L647.88,337.29 L651.33,339.76 L654.79,342.23 L658.24,344.70 L661.70,347.16 L665.15,349.62 L668.61,352.08 L672.06,354.53 L675.52,356.98 L678.97,359.42 L682.43,361.86 L685.88,364.30 L689.34,366.73 L692.79,369.16 L696.25,371.58 L699.71,374.00 L703.16,376.42 L706.62,378.83 L710.07,381.24 L713.53,383.64 L716.98,386.04 L720.44,388.43 L723.89,390.82 L727.35,393.20 L730.80,395.58 L734.26,397.95 L737.71,400.32 L741.17,402.69 L744.62,405.05 L748.08,407.41 L751.53,409.76 L754.99,412.10 L758.44,414.45 L761.90,416.78 L765.35,419.12 L768.81,421.45 L772.27,423.77 L775.72,426.09 L779.18,428.40 L782.63,430.71 L786.09,433.02 L789.54,435.32 L793.00,437.62 L796.45,439.92 L799.91,442.21 L803.36,444.49 L806.82,446.78 L810.27,449.06 L813.73,451.33 L817.18,453.60 L820.64,455.87 L824.09,458.14 L827.55,460.40 L831.00,462.66 L834.46,464.92 L837.91,467.17 L841.37,469.42 L844.83,471.67 L848.28,473.91 L851.74,476.16 L855.19,478.40 L858.65,480.64 L862.10,482.87 L865.56,485.11 L869.01,487.34 L872.47,489.58 L875.92,491.81 L879.38,494.04 L882.83,496.27 L886.29,498.50 L889.74,500.73 L893.20,502.96 L896.65,505.19 L900.11,507.41 L903.56,509.64 L907.02,511.87 L910.47,514.10 L913.93,516.33 L917.38,518.57 L920.84,520.80 L924.30,523.04 L927.75,525.27 L931.21,527.51 L934.66,529.76 L938.12,532.00 L941.57,534.25 L945.03,536.50 L948.48,538.75 L951.94,541.01 L955.39,543.27 L958.85,545.54 L962.30,547.81 L965.76,550.09 L969.21,552.37 L972.67,554.65 L976.12,556.94 L979.58,559.24 L983.03,561.55 L986.49,563.86 L989.94,566.17 L993.40,568.50 L997.13,571.01'/>
<path fill='none' stroke='#ff00ff' stroke-width='9.0' stroke-linecap='butt' stroke-linejoin='round' stroke-dasharray='20 21.05 15.05 21.05 15.05 21.05 15.05 21.05 15.05 21.05 15.05 21.05 15.05 21.05 15.05 21.05 15.05 21.05 15.05 21.05 15.05 21.05 15.05 21.05 15.05 21.05 15.05 21.05 15.05 21.05 15.05 21.05 15.05 21.05 15.05 21.05 15.05 21.05 15.05 21.05 15.05 21.05 15.05 21.05 15.05 21.05 15.05 21.05 15.05 21.05 15.05 21.05 15.05 21.05 15.05 21.05 15.05 21.05 15.05 21.05 15.05 21.05 15.05 21.05 15.05 21.05 15.05 21.05 15.05 21.05 15.05 21.05 15.05 21.05 15.05 21.05 15.05 21.05 15.05 21.05 15.05 21.05 ' d='M162.10,91.16 L167.60,91.20 L171.06,91.23 L174.51,91.30 L177.97,91.44 L181.42,91.62 L184.88,91.86 L188.33,92.14 L191.79,92.48 L195.24,92.88 L198.70,93.32 L202.15,93.82 L205.61,94.36 L209.06,94.96 L212.52,95.61 L215.97,96.31 L219.43,97.06 L222.88,97.86 L226.34,98.71 L229.79,99.61 L233.25,100.55 L236.70,101.55 L240.16,102.59 L243.62,103.68 L247.07,104.82 L250.53,106.01 L253.98,107.24 L257.44,108.52 L260.89,109.84 L264.35,111.21 L267.80,112.62 L271.26,114.07 L274.71,115.57 L278.17,117.11 L281.62,118.69 L285.08,120.31 L288.53,121.98 L291.99,123.68 L295.44,125.42 L298.90,127.20 L302.35,129.02 L305.81,130.88 L309.26,132.77 L312.72,134.70 L316.17,136.66 L319.63,138.65 L323.09,140.68 L326.54,142.75 L330.00,144.84 L333.45,146.97 L336.91,149.12 L340.36,151.31 L343.82,153.52 L347.27,155.76 L350.73,158.03 L354.18,160.33 L357.64,162.65 L361.09,165.00 L364.55,167.37 L368.00,169.77 L371.46,172.19 L374.91,174.63 L378.37,177.09 L381.82,179.57 L385.28,182.07 L388.73,184.59 L392.19,187.13 L395.65,189.68 L399.10,192.25 L402.56,194.84 L406.01,197.44 L409.47,200.06 L412.92,202.69 L416.38,205.34 L419.83,207.99 L423.29,210.66 L426.74,213.34 L430.20,216.03 L433.65,218.72 L437.11,221.43 L440.56,224.14 L444.02,226.86 L447.47,229.59 L450.93,232.33 L454.38,235.06 L457.84,237.81 L461.29,240.56 L464.75,243.31 L468.21,246.06 L471.66,248.82 L475.12,251.58 L478.57,254.34 L482.03,257.10 L485.48,259.86 L488.94,262.62 L492.39,265.38 L495.85,268.13 L499.30,270.89 L502.76,273.64 L506.21,276.39 L509.67,279.14 L513.12,281.88 L516.58,284.62 L520.03,287.35 L523.49,290.08 L526.94,292.80 L530.40,295.52 L533.85,298.23 L537.31,300.93 L540.76,303.62 L544.22,306.31 L547.68,308.99 L551.13,311.66 L554.59,314.33 L558.04,316.98 L561.50,319.63 L564.95,322.26 L568.41,324.89 L571.86,327.51 L575.32,330.11 L578.77,332.71 L582.23,335.29 L585.68,337.87 L589.14,340.43 L592.59,342.98 L596.05,345.52 L599.50,348.05 L602.96,350.56 L606.41,353.07 L609.87,355.56 L613.32,358.04 L616.78,360.51 L620.24,362.96 L623.69,365.40 L627.15,367.83 L630.60,370.25 L634.06,372.65 L637.51,375.04 L640.97,377.42 L644.42,379.78 L647.88,382.14 L651.33,384.47 L654.79,386.80 L658.24,389.11 L661.70,391.40 L665.15,393.69 L668.61,395.96 L672.06,398.22 L675.52,400.46 L678.97,402.69 L682.43,404.91 L685.88,407.11 L689.34,409.30 L692.79,411.48 L696.25,413.65 L699.71,415.80 L703.16,417.94 L706.62,420.06 L710.07,422.17 L713.53,424.27 L716.98,426.36 L720.44,428.43 L723.89,430.50 L727.35,432.55 L730.80,434.58 L734.26,436.61 L737.71,438.62 L741.17,440.62 L744.62,442.61 L748.08,444.59 L751.53,446.56 L754.99,448.51 L758.44,450.45 L761.90,452.39 L765.35,454.31 L768.81,456.22 L772.27,458.12 L775.72,460.01 L779.18,461.89 L782.63,463.76 L786.09,465.62 L789.54,467.47 L793.00,469.31 L796.45,471.14 L799.91,472.97 L803.36,474.78 L806.82,476.59 L810.27,478.38 L813.73,480.17 L817.18,481.95 L820.64,483.72 L824.09,485.49 L827.55,487.25 L831.00,489.00 L834.46,490.74 L837.91,492.48 L841.37,494.21 L844.83,495.94 L848.28,497.66 L851.74,499.37 L855.19,501.08 L858.65,502.78 L862.10,504.48 L865.56,506.18 L869.01,507.87 L872.47,509.55 L875.92,511.24 L879.38,512.92 L882.83,514.59 L886.29,516.27 L889.74,517.94 L893.20,519.60 L896.65,521.27 L900.11,522.94 L903.56,524.60 L907.02,526.26 L910.47,527.92 L913.93,529.59 L917.38,531.25 L920.84,532.91 L924.30,534.57 L927.75,536.23 L931.21,537.90 L934.66,539.57 L938.12,541.23 L941.57,542.90 L945.03,544.58 L948.48,546.25 L951.94,547.93 L955.39,549.62 L958.85,551.31 L962.30,553.00 L965.76,554.70 L969.21,556.40 L972.67,558.11 L976.12,559.82 L979.58,561.54 L983.03,563.27 L986.49,565.01 L989.94,566.75 L993.40,568.50 L997.41,570.53'/>
<path fill='none' stroke='#00ffff' stroke-width='9.0' stroke-linecap='square' stroke-linejoin='round' d='M167.60,91.20 L171.06,91.20 L174.51,91.21 L177.97,91.23 L181.42,91.24 L184.88,91.27 L188.33,91.30 L191.79,91.34 L195.24,91.38 L198.70,91.43 L202.15,91.48 L205.61,91.54 L209.06,91.60 L212.52,91.67 L215.97,91.75 L219.43,91.83 L222.88,91.91 L226.34,92.00 L229.79,92.10 L233.25,92.21 L236.70,92.31 L240.16,92.43 L243.62,92.55 L247.07,92.67 L250.53,92.80 L253.98,92.94 L257.44,93.08 L260.89,93.23 L264.35,93.38 L267.80,93.54 L271.26,93.71 L274.71,93.88 L278.17,94.05 L281.62,94.23 L285.08,94.42 L288.53,94.61 L291.99,94.81 L295.44,95.01 L298.90,95.22 L302.35,95.44 L305.81,95.66 L309.26,95.88 L312.72,96.11 L316.17,96.35 L319.63,96.59 L323.09,96.84 L326.54,97.09 L330.00,97.35 L333.45,97.62 L336.91,97.89 L340.36,98.16 L343.82,98.44 L347.27,98.73 L350.73,99.02 L354.18,99.32 L357.64,99.63 L361.09,99.93 L364.55,100.25 L368.00,100.57 L371.46,100.90 L374.91,101.23 L378.37,101.56 L381.82,101.91 L385.28,102.25 L388.73,102.61 L392.19,102.97 L395.65,103.33 L399.10,103.70 L402.56,104.08 L406.01,104.46 L409.47,104.85 L412.92,105.24 L416.38,105.64 L419.83,106.04 L423.29,106.45 L426.74,106.87 L430.20,107.29 L433.65,107.71 L437.11,108.15 L440.56,108.58 L444.02,109.03 L447.47,109.47 L450.93,109.93 L454.38,110.39 L457.84,110.85 L461.29,111.32 L464.75,111.80 L468.21,112.28 L471.66,112.77 L475.12,113.26 L478.57,113.76 L482.03,114.27 L485.48,114.77 L488.94,115.29 L492.39,115.81 L495.85,116.34 L499.30,116.87 L502.76,117.41 L506.21,117.95 L509.67,118.50 L513.12,119.05 L516.58,119.61 L520.03,120.18 L523.49,120.75 L526.94,121.33 L530.40,121.91 L533.85,122.50 L537.31,123.09 L540.76,123.69 L544.22,124.29 L547.68,124.90 L551.13,125.52 L554.59,126.14 L558.04,126.77 L561.50,127.40 L564.95,128.04 L568.41,128.68 L571.86,129.33 L575.32,129.98 L578.77,130.64 L582.23,131.31 L585.68,131.98 L589.14,132.66 L592.59,133.34 L596.05,134.03 L599.50,134.72 L602.96,135.42 L606.41,136.12 L609.87,136.83 L613.32,137.55 L616.78,138.27 L620.24,139.00 L623.69,139.73 L627.15,140.47 L630.60,141.21 L634.06,141.96 L637.51,142.72 L640.97,143.48 L644.42,144.24 L647.88,145.02 L651.33,145.79 L654.79,146.57 L658.24,147.36 L661.70,148.16 L665.15,148.96 L668.61,149.76 L672.06,150.57 L675.52,151.39 L678.97,152.21 L682.43,153.04 L685.88,153.87 L689.34,154.71 L692.79,155.55 L696.25,156.40 L699.71,157.26 L703.16,158.12 L706.62,158.98 L710.07,159.86 L713.53,160.73 L716.98,161.62 L720.44,162.50 L723.89,163.40 L727.35,164.30 L730.80,165.20 L734.26,166.11 L737.71,167.03 L741.17,167.95 L744.62,168.88 L748.08,169.81 L751.53,170.75 L754.99,171.70 L758.44,172.65 L761.90,173.60 L765.35,174.56 L768.81,175.53 L772.27,176.50 L775.72,177.48 L779.18,178.46 L782.63,179.45 L786.09,180.44 L789.54,181.44 L793.00,182.45 L796.45,183.46 L799.91,184.48 L803.36,185.50 L806.82,186.53 L810.27,187.56 L813.73,188.60 L817.18,189.64 L820.64,190.69 L824.09,191.75 L827.55,192.81 L831.00,193.88 L834.46,194.95 L837.91,196.03 L841.37,197.11 L844.83,198.20 L848.28,199.30 L851.74,200.40 L855.19,201.50 L858.65,202.61 L862.10,203.73 L865.56,204.85 L869.01,205.98 L872.47,207.11 L875.92,208.25 L879.38,209.40 L882.83,210.55 L886.29,211.70 L889.74,212.87 L893.20,214.03 L896.65,215.21 L900.11,216.38 L903.56,217.57 L907.02,218.76 L910.47,219.95 L913.93,221.15 L917.38,222.36 L920.84,223.57 L924.30,224.79 L927.75,226.01 L931.21,227.24 L934.66,228.47 L938.12,229.71 L941.57,230.96 L945.03,232.21 L948.48,233.46 L951.94,234.72 L955.39,235.99 L958.85,237.26 L962.30,238.54 L965.76,239.83 L969.21,241.12 L972.67,242.41 L976.12,243.71 L979.58,245.02 L983.03,246.33 L986.49,247.65 L989.94,248.97 L993.40,250.30'/>
<path fill='none' stroke='#00ffff' stroke-width='9.0' stroke-linecap='square' stroke-linejoin='round' d='M167.60,91.20 L171.06,91.20 L174.51,91.22 L177.97,91.24 L181.42,91.26 L184.88,91.30 L188.33,91.34 L191.79,91.40 L195.24,91.46 L198.70,91.52 L202.15,91.60 L205.61,91.68 L209.06,91.78 L212.52,91.88 L215.97,91.98 L219.43,92.10 L222.88,92.22 L226.34,92.35 L229.79,92.49 L233.25,92.64 L236.70,92.80 L240.16,92.96 L243.62,93.13 L247.07,93.31 L250.53,93.49 L253.98,93.69 L257.44,93.89 L260.89,94.10 L264.35,94.32 L267.80,94.54 L271.26,94.78 L274.71,95.02 L278.17,95.27 L281.62,95.52 L285.08,95.79 L288.53,96.06 L291.99,96.34 L295.44,96.62 L298.90,96.92 L302.35,97.22 L305.81,97.53 L309.26,97.85 L312.72,98.17 L316.17,98.50 L319.63,98.84 L323.09,99.19 L326.54,99.54 L330.00,99.90 L333.45,100.27 L336.91,100.65 L340.36,101.03 L343.82,101.42 L347.27,101.82 L350.73,102.22 L354.18,102.63 L357.64,103.05 L361.09,103.47 L364.55,103.91 L368.00,104.35 L371.46,104.79 L374.91,105.25 L378.37,105.71 L381.82,106.17 L385.28,106.65 L388.73,107.13 L392.19,107.61 L395.65,108.11 L399.10,108.61 L402.56,109.12 L406.01,109.63 L409.47,110.15 L412.92,110.68 L416.38,111.21 L419.83,111.75 L423.29,112.29 L426.74,112.85 L430.20,113.40 L433.65,113.97 L437.11,114.54 L440.56,115.11 L444.02,115.70 L447.47,116.29 L450.93,116.88 L454.38,117.48 L457.84,118.09 L461.29,118.70 L464.75,119.32 L468.21,119.94 L471.66,120.57 L475.12,121.21 L478.57,121.85 L482.03,122.50 L485.48,123.15 L488.94,123.81 L492.39,124.47 L495.85,125.14 L499.30,125.81 L502.76,126.49 L506.21,127.18 L509.67,127.86 L513.12,128.56 L516.58,129.26 L520.03,129.96 L523.49,130.67 L526.94,131.39 L530.40,132.11 L533.85,132.83 L537.31,133.56 L540.76,134.29 L544.22,135.03 L547.68,135.77 L551.13,136.52 L554.59,137.27 L558.04,138.03 L561.50,138.79 L564.95,139.56 L568.41,140.33 L571.86,141.10 L575.32,141.88 L578.77,142.66 L582.23,143.44 L585.68,144.23 L589.14,145.03 L592.59,145.83 L596.05,146.63 L599.50,147.43 L602.96,148.24 L606.41,149.05 L609.87,149.87 L613.32,150.69 L616.78,151.51 L620.24,152.34 L623.69,153.17 L627.15,154.00 L630.60,154.84 L634.06,155.68 L637.51,156.53 L640.97,157.37 L644.42,158.22 L647.88,159.07 L651.33,159.93 L654.79,160.79 L658.24,161.65 L661.70,162.51 L665.15,163.38 L668.61,164.25 L672.06,165.12 L675.52,165.99 L678.97,166.87 L682.43,167.75 L685.88,168.63 L689.34,169.52 L692.79,170.40 L696.25,171.29 L699.71,172.18 L703.16,173.08 L706.62,173.97 L710.07,174.87 L713.53,175.77 L716.98,176.67 L720.44,177.57 L723.89,178.48 L727.35,179.38 L730.80,180.29 L734.26,181.20 L737.71,182.11 L741.17,183.02 L744.62,183.94 L748.08,184.85 L751.53,185.77 L754.99,186.69 L758.44,187.61 L761.90,188.53 L765.35,189.45 L768.81,190.37 L772.27,191.30 L775.72,192.22 L779.18,193.15 L782.63,194.07 L786.09,195.00 L789.54,195.93 L793.00,196.86 L796.45,197.79 L799.91,198.72 L803.36,199.65 L806.82,200.58 L810.27,201.51 L813.73,202.44 L817.18,203.37 L820.64,204.31 L824.09,205.24 L827.55,206.17 L831.00,207.11 L834.46,208.04 L837.91,208.97 L841.37,209.91 L844.83,210.84 L848.28,211.77 L851.74,212.71 L855.19,213.64 L858.65,214.57 L862.10,215.51 L865.56,216.44 L869.01,217.37 L872.47,218.30 L875.92,219.23 L879.38,220.16 L882.83,221.09 L886.29,222.02 L889.74,222.95 L893.20,223.88 L896.65,224.81 L900.11,225.73 L903.56,226.66 L907.02,227.58 L910.47,228.51 L913.93,229.43 L917.38,230.35 L920.84,231.27 L924.30,232.19 L927.75,233.11 L931.21,234.03 L934.66,234.95 L938.12,235.86 L941.57,236.78 L945.03,237.69 L948.48,238.60 L951.94,239.51 L955.39,240.42 L958.85,241.32 L962.30,242.23 L965.76,243.13 L969.21,244.03 L972.67,244.93 L976.12,245.83 L979.58,246.73 L983.03,247.63 L986.49,248.52 L989.94,249.41 L993.40,250.30'/>
<path fill='none' stroke='#00ffff' stroke-width='9.0' stroke-linecap='square' stroke-linejoin='round' d='M167.60,91.20 L171.06,91.21 L174.51,91.23 L177.97,91.27 L181.42,91.33 L184.88,91.40 L188.33,91.49 L191.79,91.59 L195.24,91.72 L198.70,91.85 L202.15,92.00 L205.61,92.17 L209.06,92.36 L212.52,92.56 L215.97,92.77 L219.43,93.01 L222.88,93.25 L226.34,93.52 L229.79,93.80 L233.25,94.09 L236.70,94.40 L240.16,94.73 L243.62,95.07 L247.07,95.42 L250.53,95.79 L253.98,96.18 L257.44,96.58 L260.89,96.99 L264.35,97.42 L267.80,97.87 L271.26,98.33 L274.71,98.80 L278.17,99.29 L281.62,99.79 L285.08,100.31 L288.53,100.84 L291.99,101.38 L295.44,101.94 L298.90,102.51 L302.35,103.09 L305.81,103.69 L309.26,104.30 L312.72,104.93 L316.17,105.56 L319.63,106.21 L323.09,106.88 L326.54,107.55 L330.00,108.24 L333.45,108.94 L336.91,109.65 L340.36,110.37 L343.82,111.10 L347.27,111.85 L350.73,112.61 L354.18,113.37 L357.64,114.15 L361.09,114.94 L364.55,115.74 L368.00,116.55 L371.46,117.37 L374.91,118.20 L378.37,119.04 L381.82,119.89 L385.28,120.75 L388.73,121.62 L392.19,122.50 L395.65,123.38 L399.10,124.28 L402.56,125.18 L406.01,126.10 L409.47,127.02 L412.92,127.94 L416.38,128.88 L419.83,129.82 L423.29,130.77 L426.74,131.73 L430.20,132.69 L433.65,133.66 L437.11,134.64 L440.56,135.63 L444.02,136.62 L447.47,137.61 L450.93,138.61 L454.38,139.62 L457.84,140.63 L461.29,141.65 L464.75,142.67 L468.21,143.69 L471.66,144.72 L475.12,145.76 L478.57,146.80 L482.03,147.84 L485.48,148.89 L488.94,149.94 L492.39,150.99 L495.85,152.04 L499.30,153.10 L502.76,154.16 L506.21,155.22 L509.67,156.29 L513.12,157.36 L516.58,158.42 L520.03,159.49 L523.49,160.57 L526.94,161.64 L530.40,162.71 L533.85,163.78 L537.31,164.86 L540.76,165.93 L544.22,167.01 L547.68,168.08 L551.13,169.16 L554.59,170.23 L558.04,171.30 L561.50,172.37 L564.95,173.45 L568.41,174.51 L571.86,175.58 L575.32,176.65 L578.77,177.71 L582.23,178.78 L585.68,179.84 L589.14,180.89 L592.59,181.95 L596.05,183.00 L599.50,184.05 L602.96,185.10 L606.41,186.14 L609.87,187.18 L613.32,188.21 L616.78,189.24 L620.24,190.27 L623.69,191.30 L627.15,192.31 L630.60,193.33 L634.06,194.34 L637.51,195.34 L640.97,196.34 L644.42,197.34 L647.88,198.33 L651.33,199.31 L654.79,200.29 L658.24,201.26 L661.70,202.23 L665.15,203.19 L668.61,204.14 L672.06,205.09 L675.52,206.03 L678.97,206.96 L682.43,207.89 L685.88,208.81 L689.34,209.72 L692.79,210.63 L696.25,211.52 L699.71,212.42 L703.16,213.30 L706.62,214.17 L710.07,215.04 L713.53,215.90 L716.98,216.75 L720.44,217.59 L723.89,218.43 L727.35,219.25 L730.80,220.07 L734.26,220.88 L737.71,221.67 L741.17,222.46 L744.62,223.25 L748.08,224.02 L751.53,224.78 L754.99,225.53 L758.44,226.28 L761.90,227.01 L765.35,227.73 L768.81,228.45 L772.27,229.15 L775.72,229.84 L779.18,230.53 L782.63,231.20 L786.09,231.86 L789.54,232.52 L793.00,233.16 L796.45,233.79 L799.91,234.41 L803.36,235.02 L806.82,235.62 L810.27,236.21 L813.73,236.78 L817.18,237.35 L820.64,237.91 L824.09,238.45 L827.55,238.98 L831.00,239.50 L834.46,240.01 L837.91,240.51 L841.37,241.00 L844.83,241.47 L848.28,241.94 L851.74,242.39 L855.19,242.83 L858.65,243.25 L862.10,243.67 L865.56,244.07 L869.01,244.47 L872.47,244.85 L875.92,245.21 L879.38,245.57 L882.83,245.91 L886.29,246.25 L889.74,246.56 L893.20,246.87 L896.65,247.17 L900.11,247.45 L903.56,247.72 L907.02,247.97 L910.47,248.22 L913.93,248.45 L917.38,248.67 L920.84,248.88 L924.30,249.07 L927.75,249.26 L931.21,249.43 L934.66,249.58 L938.12,249.73 L941.57,249.86 L945.03,249.98 L948.48,250.08 L951.94,250.18 L955.39,250.26 L958.85,250.32 L962.30,250.38 L965.76,250.42 L969.21,250.45 L972.67,250.47 L976.12,250.47 L979.58,250.46 L983.03,250.44 L986.49,250.41 L989.94,250.36 L993.40,250.30'/>
<path fill='none' stroke='#00ffff' stroke-width='9.0' stroke-linecap='square' stroke-linejoin='round' d='M167.60,91.20 L171.06,91.21 L174.51,91.26 L177.97,91.33 L181.42,91.43 L184.88,91.57 L188.33,91.73 L191.79,91.92 L195.24,92.14 L198.70,92.38 L202.15,92.66 L205.61,92.97 L209.06,93.30 L212.52,93.66 L215.97,94.05 L219.43,94.47 L222.88,94.92 L226.34,95.39 L229.79,95.89 L233.25,96.42 L236.70,96.98 L240.16,97.57 L243.62,98.18 L247.07,98.81 L250.53,99.48 L253.98,100.17 L257.44,100.88 L260.89,101.62 L264.35,102.39 L267.80,103.18 L271.26,104.00 L274.71,104.84 L278.17,105.70 L281.62,106.59 L285.08,107.50 L288.53,108.43 L291.99,109.39 L295.44,110.37 L298.90,111.37 L302.35,112.39 L305.81,113.43 L309.26,114.50 L312.72,115.58 L316.17,116.69 L319.63,117.81 L323.09,118.95 L326.54,120.11 L330.00,121.29 L333.45,122.49 L336.91,123.71 L340.36,124.94 L343.82,126.19 L347.27,127.46 L350.73,128.74 L354.18,130.03 L357.64,131.34 L361.09,132.67 L364.55,134.01 L368.00,135.36 L371.46,136.73 L374.91,138.10 L378.37,139.49 L381.82,140.90 L385.28,142.31 L388.73,143.73 L392.19,145.17 L395.65,146.61 L399.10,148.06 L402.56,149.52 L406.01,150.99 L409.47,152.47 L412.92,153.96 L416.38,155.45 L419.83,156.95 L423.29,158.45 L426.74,159.96 L430.20,161.47 L433.65,162.99 L437.11,164.52 L440.56,166.04 L444.02,167.57 L447.47,169.11 L450.93,170.64 L454.38,172.18 L457.84,173.71 L461.29,175.25 L464.75,176.79 L468.21,178.33 L471.66,179.87 L475.12,181.41 L478.57,182.95 L482.03,184.48 L485.48,186.01 L488.94,187.54 L492.39,189.07 L495.85,190.60 L499.30,192.12 L502.76,193.63 L506.21,195.14 L509.67,196.65 L513.12,198.15 L516.58,199.65 L520.03,201.13 L523.49,202.62 L526.94,204.09 L530.40,205.56 L533.85,207.02 L537.31,208.47 L540.76,209.92 L544.22,211.35 L547.68,212.78 L551.13,214.20 L554.59,215.60 L558.04,217.00 L561.50,218.39 L564.95,219.77 L568.41,221.13 L571.86,222.48 L575.32,223.83 L578.77,225.16 L582.23,226.47 L585.68,227.78 L589.14,229.07 L592.59,230.35 L596.05,231.62 L599.50,232.87 L602.96,234.11 L606.41,235.33 L609.87,236.54 L613.32,237.74 L616.78,238.92 L620.24,240.08 L623.69,241.23 L627.15,242.37 L630.60,243.49 L634.06,244.59 L637.51,245.68 L640.97,246.74 L644.42,247.80 L647.88,248.83 L651.33,249.85 L654.79,250.85 L658.24,251.84 L661.70,252.80 L665.15,253.75 L668.61,254.68 L672.06,255.59 L675.52,256.49 L678.97,257.36 L682.43,258.22 L685.88,259.06 L689.34,259.88 L692.79,260.68 L696.25,261.46 L699.71,262.22 L703.16,262.96 L706.62,263.68 L710.07,264.38 L713.53,265.07 L716.98,265.73 L720.44,266.37 L723.89,266.99 L727.35,267.59 L730.80,268.17 L734.26,268.73 L737.71,269.27 L741.17,269.79 L744.62,270.29 L748.08,270.77 L751.53,271.23 L754.99,271.66 L758.44,272.08 L761.90,272.47 L765.35,272.84 L768.81,273.19 L772.27,273.52 L775.72,273.83 L779.18,274.11 L782.63,274.38 L786.09,274.62 L789.54,274.84 L793.00,275.04 L796.45,275.22 L799.91,275.38 L803.36,275.52 L806.82,275.63 L810.27,275.72 L813.73,275.79 L817.18,275.84 L820.64,275.87 L824.09,275.87 L827.55,275.85 L831.00,275.82 L834.46,275.76 L837.91,275.67 L841.37,275.57 L844.83,275.44 L848.28,275.30 L851.74,275.13 L855.19,274.94 L858.65,274.72 L862.10,274.49 L865.56,274.23 L869.01,273.96 L872.47,273.66 L875.92,273.34 L879.38,273.00 L882.83,272.64 L886.29,272.25 L889.74,271.85 L893.20,271.42 L896.65,270.97 L900.11,270.51 L903.56,270.02 L907.02,269.51 L910.47,268.98 L913.93,268.43 L917.38,267.85 L920.84,267.26 L924.30,266.65 L927.75,266.02 L931.21,265.36 L934.66,264.69 L938.12,264.00 L941.57,263.28 L945.03,262.55 L948.48,261.80 L951.94,261.03 L955.39,260.24 L958.85,259.43 L962.30,258.60 L965.76,257.75 L969.21,256.88 L972.67,255.99 L976.12,255.09 L979.58,254.17 L983.03,253.23 L986.49,252.27 L989.94,251.29 L993.40,250.30'/>
<path fill='none' stroke='#ff00ff' stroke-width='9.0' stroke-linecap='butt' stroke-linejoin='round' stroke-dasharray='20 21.05 15.05 21.05 15.05 21.05 15.05 21.05 15.05 21.05 15.05 21.05 15.05 21.05 15.05 21.05 15.05 21.05 15.05 21.05 15.05 21.05 15.05 21.05 15.05 21.05 15.05 21.05 15.05 21.05 15.05 21.05 15.05 21.05 15.05 21.05 15.05 21.05 15.05 21.05 15.05 21.05 15.05 21.05 15.05 21.05 15.05 21.05 15.05 21.05 15.05 21.05 15.05 21.05 15.05 21.05 15.05 21.05 15.05 21.05 15.05 21.05 15.05 21.05 15.05 21.05 15.05 21.05 15.05 21.05 15.05 21.05 15.05 21.05 15.05 21.05 15.05 21.05 15.05 21.05 15.05 21.05 ' d='M162.10,91.20 L167.60,91.20 L171.06,91.20 L174.51,91.21 L177.97,91.23 L181.42,91.24 L184.88,91.27 L188.33,91.30 L191.79,91.34 L195.24,91.38 L198.70,91.43 L202.15,91.48 L205.61,91.54 L209.06,91.60 L212.52,91.67 L215.97,91.75 L219.43,91.83 L222.88,91.91 L226.34,92.00 L229.79,92.10 L233.25,92.21 L236.70,92.31 L240.16,92.43 L243.62,92.55 L247.07,92.67 L250.53,92.80 L253.98,92.94 L257.44,93.08 L260.89,93.23 L264.35,93.38 L267.80,93.54 L271.26,93.71 L274.71,93.88 L278.17,94.05 L281.62,94.23 L285.08,94.42 L288.53,94.61 L291.99,94.81 L295.44,95.01 L298.90,95.22 L302.35,95.44 L305.81,95.66 L309.26,95.88 L312.72,96.11 L316.17,96.35 L319.63,96.59 L323.09,96.84 L326.54,97.09 L330.00,97.35 L333.45,97.62 L336.91,97.89 L340.36,98.16 L343.82,98.44 L347.27,98.73 L350.73,99.02 L354.18,99.32 L357.64,99.63 L361.09,99.93 L364.55,100.25 L368.00,100.57 L371.46,100.90 L374.91,101.23 L378.37,101.56 L381.82,101.91 L385.28,102.25 L388.73,102.61 L392.19,102.97 L395.65,103.33 L399.10,103.70 L402.56,104.08 L406.01,104.46 L409.47,104.85 L412.92,105.24 L416.38,105.64 L419.83,106.04 L423.29,106.45 L426.74,106.87 L430.20,107.29 L433.65,107.71 L437.11,108.15 L440.56,108.58 L444.02,109.03 L447.47,109.47 L450.93,109.93 L454.38,110.39 L457.84,110.85 L461.29,111.32 L464.75,111.80 L468.21,112.28 L471.66,112.77 L475.12,113.26 L478.57,113.76 L482.03,114.27 L485.48,114.77 L488.94,115.29 L492.39,115.81 L495.85,116.34 L499.30,116.87 L502.76,117.41 L506.21,117.95 L509.67,118.50 L513.12,119.05 L516.58,119.61 L520.03,120.18 L523.49,120.75 L526.94,121.33 L530.40,121.91 L533.85,122.50 L537.31,123.09 L540.76,123.69 L544.22,124.29 L547.68,124.90 L551.13,125.52 L554.59,126.14 L558.04,126.77 L561.50,127.40 L564.95,128.04 L568.41,128.68 L571.86,129.33 L575.32,129.98 L578.77,130.64 L582.23,131.31 L585.68,131.98 L589.14,132.66 L592.59,133.34 L596.05,134.03 L599.50,134.72 L602.96,135.42 L606.41,136.12 L609.87,136.83 L613.32,137.55 L616.78,138.27 L620.24,139.00 L623.69,139.73 L627.15,140.47 L630.60,141.21 L634.06,141.96 L637.51,142.72 L640.97,143.48 L644.42,144.24 L647.88,145.02 L651.33,145.79 L654.79,146.57 L658.24,147.36 L661.70,148.16 L665.15,148.96 L668.61,149.76 L672.06,150.57 L675.52,151.39 L678.97,152.21 L682.43,153.04 L685.88,153.87 L689.34,154.71 L692.79,155.55 L696.25,156.40 L699.71,157.26 L703.16,158.12 L706.62,158.98 L710.07,159.86 L713.53,160.73 L716.98,161.62 L720.44,162.50 L723.89,163.40 L727.35,164.30 L730.80,165.20 L734.26,166.11 L737.71,167.03 L741.17,167.95 L744.62,168.88 L748.08,169.81 L751.53,170.75 L754.99,171.70 L758.44,172.65 L761.90,173.60 L765.35,174.56 L768.81,175.53 L772.27,176.50 L775.72,177.48 L779.18,178.46 L782.63,179.45 L786.09,180.44 L789.54,181.44 L793.00,182.45 L796.45,183.46 L799.91,184.48 L803.36,185.50 L806.82,186.53 L810.27,187.56 L813.73,188.60 L817.18,189.64 L820.64,190.69 L824.09,191.75 L827.55,192.81 L831.00,193.88 L834.46,194.95 L837.91,196.03 L841.37,197.11 L844.83,198.20 L848.28,199.30 L851.74,200.40 L855.19,201.50 L858.65,202.61 L862.10,203.73 L865.56,204.85 L869.01,205.98 L872.47,207.11 L875.92,208.25 L879.38,209.40 L882.83,210.55 L886.29,211.70 L889.74,212.87 L893.20,214.03 L896.65,215.21 L900.11,216.38 L903.56,217.57 L907.02,218.76 L910.47,219.95 L913.93,221.15 L917.38,222.36 L920.84,223.57 L924.30,224.79 L927.75,226.01 L931.21,227.24 L934.66,228.47 L938.12,229.71 L941.57,230.96 L945.03,232.21 L948.48,233.46 L951.94,234.72 L955.39,235.99 L958.85,237.26 L962.30,238.54 L965.76,239.83 L969.21,241.12 L972.67,242.41 L976.12,243.71 L979.58,245.02 L983.03,246.33 L986.49,247.65 L989.94,248.97 L993.40,250.30 L997.60,251.92'/>
<path fill='none' stroke='#ff00ff' stroke-width='9.0' stroke-linecap='butt' stroke-linejoin='round' stroke-dasharray='20 21.05 15.05 21.05 15.05 21.05 15.05 21.05 15.05 21.05 15.05 21.05 15.05 21.05 15.05 21.05 15.05 21.05 15.05 21.05 15.05 21.05 15.05 21.05 15.05 21.05 15.05 21.05 15.05 21.05 15.05 21.05 15.05 21.05 15.05 21.05 15.05 21.05 15.05 21.05 15.05 21.05 15.05 21.05 15.05 21.05 15.05 21.05 15.05 21.05 15.05 21.05 15.05 21.05 15.05 21.05 15.05 21.05 15.05 21.05 15.05 21.05 15.05 21.05 15.05 21.05 15.05 21.05 15.05 21.05 15.05 21.05 15.05 21.05 15.05 21.05 15.05 21.05 15.05 21.05 15.05 21.05 ' d='M162.10,91.19 L167.60,91.20 L171.06,91.20 L174.51,91.22 L177.97,91.24 L181.42,91.27 L184.88,91.30 L188.33,91.35 L191.79,91.40 L195.24,91.46 L198.70,91.53 L202.15,91.61 L205.61,91.70 L209.06,91.79 L212.52,91.90 L215.97,92.01 L219.43,92.13 L222.88,92.26 L226.34,92.39 L229.79,92.54 L233.25,92.69 L236.70,92.85 L240.16,93.02 L243.62,93.19 L247.07,93.38 L250.53,93.57 L253.98,93.77 L257.44,93.98 L260.89,94.20 L264.35,94.42 L267.80,94.65 L271.26,94.89 L274.71,95.14 L278.17,95.40 L281.62,95.66 L285.08,95.93 L288.53,96.21 L291.99,96.50 L295.44,96.80 L298.90,97.10 L302.35,97.41 L305.81,97.73 L309.26,98.06 L312.72,98.39 L316.17,98.73 L319.63,99.08 L323.09,99.44 L326.54,99.80 L330.00,100.18 L333.45,100.56 L336.91,100.94 L340.36,101.34 L343.82,101.74 L347.27,102.15 L350.73,102.56 L354.18,102.99 L357.64,103.42 L361.09,103.86 L364.55,104.30 L368.00,104.75 L371.46,105.21 L374.91,105.68 L378.37,106.15 L381.82,106.63 L385.28,107.12 L388.73,107.61 L392.19,108.11 L395.65,108.62 L399.10,109.13 L402.56,109.65 L406.01,110.18 L409.47,110.72 L412.92,111.26 L416.38,111.80 L419.83,112.36 L423.29,112.92 L426.74,113.48 L430.20,114.06 L433.65,114.63 L437.11,115.22 L440.56,115.81 L444.02,116.41 L447.47,117.01 L450.93,117.62 L454.38,118.24 L457.84,118.86 L461.29,119.48 L464.75,120.12 L468.21,120.76 L471.66,121.40 L475.12,122.05 L478.57,122.71 L482.03,123.37 L485.48,124.03 L488.94,124.71 L492.39,125.38 L495.85,126.07 L499.30,126.75 L502.76,127.45 L506.21,128.15 L509.67,128.85 L513.12,129.56 L516.58,130.27 L520.03,130.99 L523.49,131.71 L526.94,132.44 L530.40,133.18 L533.85,133.91 L537.31,134.66 L540.76,135.40 L544.22,136.15 L547.68,136.91 L551.13,137.67 L554.59,138.44 L558.04,139.20 L561.50,139.98 L564.95,140.76 L568.41,141.54 L571.86,142.32 L575.32,143.11 L578.77,143.91 L582.23,144.70 L585.68,145.51 L589.14,146.31 L592.59,147.12 L596.05,147.93 L599.50,148.75 L602.96,149.57 L606.41,150.39 L609.87,151.22 L613.32,152.05 L616.78,152.88 L620.24,153.71 L623.69,154.55 L627.15,155.40 L630.60,156.24 L634.06,157.09 L637.51,157.94 L640.97,158.80 L644.42,159.65 L647.88,160.51 L651.33,161.37 L654.79,162.24 L658.24,163.11 L661.70,163.98 L665.15,164.85 L668.61,165.72 L672.06,166.60 L675.52,167.48 L678.97,168.36 L682.43,169.25 L685.88,170.13 L689.34,171.02 L692.79,171.91 L696.25,172.80 L699.71,173.69 L703.16,174.59 L706.62,175.48 L710.07,176.38 L713.53,177.28 L716.98,178.18 L720.44,179.09 L723.89,179.99 L727.35,180.90 L730.80,181.80 L734.26,182.71 L737.71,183.62 L741.17,184.53 L744.62,185.44 L748.08,186.35 L751.53,187.27 L754.99,188.18 L758.44,189.10 L761.90,190.01 L765.35,190.93 L768.81,191.85 L772.27,192.76 L775.72,193.68 L779.18,194.60 L782.63,195.52 L786.09,196.44 L789.54,197.36 L793.00,198.28 L796.45,199.20 L799.91,200.12 L803.36,201.04 L806.82,201.96 L810.27,202.88 L813.73,203.80 L817.18,204.72 L820.64,205.64 L824.09,206.56 L827.55,207.48 L831.00,208.40 L834.46,209.32 L837.91,210.24 L841.37,211.15 L844.83,212.07 L848.28,212.99 L851.74,213.90 L855.19,214.82 L858.65,215.73 L862.10,216.65 L865.56,217.56 L869.01,218.47 L872.47,219.38 L875.92,220.29 L879.38,221.20 L882.83,222.11 L886.29,223.02 L889.74,223.92 L893.20,224.83 L896.65,225.73 L900.11,226.63 L903.56,227.53 L907.02,228.43 L910.47,229.33 L913.93,230.22 L917.38,231.12 L920.84,232.01 L924.30,232.90 L927.75,233.79 L931.21,234.68 L934.66,235.56 L938.12,236.45 L941.57,237.33 L945.03,238.21 L948.48,239.08 L951.94,239.96 L955.39,240.83 L958.85,241.71 L962.30,242.58 L965.76,243.44 L969.21,244.31 L972.67,245.17 L976.12,246.03 L979.58,246.89 L983.03,247.75 L986.49,248.60 L989.94,249.45 L993.40,250.30 L997.77,251.37'/>
<path fill='none' stroke='#ff00ff' stroke-width='9.0' stroke-linecap='butt' stroke-linejoin='round' stroke-dasharray='20 21.05 15.05 21.05 15.05 21.05 15.05 21.05 15.05 21.05 15.05 21.05 15.05 21.05 15.05 21.05 15.05 21.05 15.05 21.05 15.05 21.05 15.05 21.05 15.05 21.05 15.05 21.05 15.05 21.05 15.05 21.05 15.05 21.05 15.05 21.05 15.05 21.05 15.05 21.05 15.05 21.05 15.05 21.05 15.05 21.05 15.05 21.05 15.05 21.05 15.05 21.05 15.05 21.05 15.05 21.05 15.05 21.05 15.05 21.05 15.05 21.05 15.05 21.05 15.05 21.05 15.05 21.05 15.05 21.05 15.05 21.05 15.05 21.05 15.05 21.05 15.05 21.05 15.05 21.05 15.05 21.05 ' d='M162.10,91.19 L167.60,91.20 L171.06,91.21 L174.51,91.24 L177.97,91.28 L181.42,91.34 L184.88,91.42 L188.33,91.52 L191.79,91.63 L195.24,91.77 L198.70,91.92 L202.15,92.08 L205.61,92.27 L209.06,92.47 L212.52,92.69 L215.97,92.93 L219.43,93.18 L222.88,93.46 L226.34,93.74 L229.79,94.05 L233.25,94.37 L236.70,94.71 L240.16,95.07 L243.62,95.44 L247.07,95.83 L250.53,96.24 L253.98,96.66 L257.44,97.10 L260.89,97.56 L264.35,98.03 L267.80,98.51 L271.26,99.02 L274.71,99.53 L278.17,100.07 L281.62,100.62 L285.08,101.18 L288.53,101.76 L291.99,102.36 L295.44,102.97 L298.90,103.59 L302.35,104.23 L305.81,104.88 L309.26,105.55 L312.72,106.23 L316.17,106.93 L319.63,107.63 L323.09,108.36 L326.54,109.09 L330.00,109.84 L333.45,110.60 L336.91,111.38 L340.36,112.16 L343.82,112.96 L347.27,113.77 L350.73,114.59 L354.18,115.43 L357.64,116.27 L361.09,117.13 L364.55,118.00 L368.00,118.88 L371.46,119.77 L374.91,120.67 L378.37,121.58 L381.82,122.50 L385.28,123.43 L388.73,124.37 L392.19,125.32 L395.65,126.28 L399.10,127.25 L402.56,128.22 L406.01,129.21 L409.47,130.20 L412.92,131.20 L416.38,132.21 L419.83,133.22 L423.29,134.25 L426.74,135.28 L430.20,136.31 L433.65,137.36 L437.11,138.41 L440.56,139.46 L444.02,140.53 L447.47,141.59 L450.93,142.67 L454.38,143.74 L457.84,144.83 L461.29,145.91 L464.75,147.00 L468.21,148.10 L471.66,149.20 L475.12,150.30 L478.57,151.41 L482.03,152.52 L485.48,153.63 L488.94,154.75 L492.39,155.87 L495.85,156.99 L499.30,158.11 L502.76,159.24 L506.21,160.36 L509.67,161.49 L513.12,162.62 L516.58,163.75 L520.03,164.88 L523.49,166.01 L526.94,167.14 L530.40,168.27 L533.85,169.40 L537.31,170.53 L540.76,171.66 L544.22,172.79 L547.68,173.91 L551.13,175.04 L554.59,176.16 L558.04,177.29 L561.50,178.41 L564.95,179.52 L568.41,180.64 L571.86,181.75 L575.32,182.86 L578.77,183.97 L582.23,185.07 L585.68,186.17 L589.14,187.27 L592.59,188.36 L596.05,189.45 L599.50,190.53 L602.96,191.61 L606.41,192.68 L609.87,193.75 L613.32,194.82 L616.78,195.87 L620.24,196.93 L623.69,197.98 L627.15,199.02 L630.60,200.05 L634.06,201.08 L637.51,202.11 L640.97,203.12 L644.42,204.13 L647.88,205.14 L651.33,206.13 L654.79,207.12 L658.24,208.10 L661.70,209.08 L665.15,210.04 L668.61,211.00 L672.06,211.95 L675.52,212.89 L678.97,213.83 L682.43,214.75 L685.88,215.67 L689.34,216.58 L692.79,217.47 L696.25,218.36 L699.71,219.24 L703.16,220.12 L706.62,220.98 L710.07,221.83 L713.53,222.67 L716.98,223.50 L720.44,224.33 L723.89,225.14 L727.35,225.94 L730.80,226.73 L734.26,227.51 L737.71,228.28 L741.17,229.04 L744.62,229.79 L748.08,230.53 L751.53,231.25 L754.99,231.97 L758.44,232.67 L761.90,233.36 L765.35,234.05 L768.81,234.72 L772.27,235.37 L775.72,236.02 L779.18,236.65 L782.63,237.28 L786.09,237.89 L789.54,238.48 L793.00,239.07 L796.45,239.64 L799.91,240.21 L803.36,240.75 L806.82,241.29 L810.27,241.81 L813.73,242.32 L817.18,242.82 L820.64,243.31 L824.09,243.78 L827.55,244.24 L831.00,244.69 L834.46,245.12 L837.91,245.54 L841.37,245.95 L844.83,246.34 L848.28,246.72 L851.74,247.09 L855.19,247.44 L858.65,247.79 L862.10,248.11 L865.56,248.43 L869.01,248.73 L872.47,249.01 L875.92,249.29 L879.38,249.54 L882.83,249.79 L886.29,250.02 L889.74,250.24 L893.20,250.44 L896.65,250.63 L900.11,250.81 L903.56,250.97 L907.02,251.12 L910.47,251.26 L913.93,251.38 L917.38,251.48 L920.84,251.58 L924.30,251.66 L927.75,251.72 L931.21,251.77 L934.66,251.81 L938.12,251.83 L941.57,251.84 L945.03,251.84 L948.48,251.82 L951.94,251.78 L955.39,251.74 L958.85,251.68 L962.30,251.60 L965.76,251.51 L969.21,251.41 L972.67,251.29 L976.12,251.16 L979.58,251.02 L983.03,250.86 L986.49,250.69 L989.94,250.50 L993.40,250.30 L997.89,250.04'/>
<path fill='none' stroke='#ff00ff' stroke-width='9.0' stroke-linecap='butt' stroke-linejoin='round' stroke-dasharray='20 21.05 15.05 21.05 15.05 21.05 15.05 21.05 15.05 21.05 15.05 21.05 15.05 21.05 15.05 21.05 15.05 21.05 15.05 21.05 15.05 21.05 15.05 21.05 15.05 21.05 15.05 21.05 15.05 21.05 15.05 21.05 15.05 21.05 15.05 21.05 15.05 21.05 15.05 21.05 15.05 21.05 15.05 21.05 15.05 21.05 15.05 21.05 15.05 21.05 15.05 21.05 15.05 21.05 15.05 21.05 15.05 21.05 15.05 21.05 15.05 21.05 15.05 21.05 15.05 21.05 15.05 21.05 15.05 21.05 15.05 21.05 15.05 21.05 15.05 21.05 15.05 21.05 15.05 21.05 15.05 21.05 ' d='M162.10,91.17 L167.60,91.20 L171.06,91.22 L174.51,91.27 L177.97,91.35 L181.42,91.47 L184.88,91.62 L188.33,91.80 L191.79,92.01 L195.24,92.26 L198.70,92.54 L202.15,92.86 L205.61,93.21 L209.06,93.59 L212.52,94.00 L215.97,94.44 L219.43,94.92 L222.88,95.42 L226.34,95.96 L229.79,96.53 L233.25,97.13 L236.70,97.77 L240.16,98.43 L243.62,99.12 L247.07,99.84 L250.53,100.59 L253.98,101.38 L257.44,102.19 L260.89,103.02 L264.35,103.89 L267.80,104.79 L271.26,105.71 L274.71,106.66 L278.17,107.64 L281.62,108.64 L285.08,109.67 L288.53,110.72 L291.99,111.80 L295.44,112.90 L298.90,114.03 L302.35,115.18 L305.81,116.36 L309.26,117.56 L312.72,118.78 L316.17,120.02 L319.63,121.28 L323.09,122.57 L326.54,123.87 L330.00,125.19 L333.45,126.54 L336.91,127.90 L340.36,129.28 L343.82,130.68 L347.27,132.10 L350.73,133.53 L354.18,134.98 L357.64,136.44 L361.09,137.92 L364.55,139.41 L368.00,140.92 L371.46,142.44 L374.91,143.98 L378.37,145.52 L381.82,147.08 L385.28,148.65 L388.73,150.23 L392.19,151.82 L395.65,153.42 L399.10,155.03 L402.56,156.65 L406.01,158.27 L409.47,159.90 L412.92,161.54 L416.38,163.19 L419.83,164.84 L423.29,166.50 L426.74,168.16 L430.20,169.82 L433.65,171.49 L437.11,173.16 L440.56,174.83 L444.02,176.51 L447.47,178.19 L450.93,179.86 L454.38,181.54 L457.84,183.22 L461.29,184.90 L464.75,186.57 L468.21,188.25 L471.66,189.92 L475.12,191.59 L478.57,193.26 L482.03,194.92 L485.48,196.58 L488.94,198.23 L492.39,199.88 L495.85,201.52 L499.30,203.16 L502.76,204.79 L506.21,206.42 L509.67,208.03 L513.12,209.64 L516.58,211.24 L520.03,212.83 L523.49,214.42 L526.94,215.99 L530.40,217.55 L533.85,219.11 L537.31,220.65 L540.76,222.18 L544.22,223.70 L547.68,225.21 L551.13,226.71 L554.59,228.19 L558.04,229.66 L561.50,231.12 L564.95,232.57 L568.41,234.00 L571.86,235.41 L575.32,236.81 L578.77,238.20 L582.23,239.57 L585.68,240.93 L589.14,242.27 L592.59,243.59 L596.05,244.90 L599.50,246.19 L602.96,247.47 L606.41,248.72 L609.87,249.96 L613.32,251.19 L616.78,252.39 L620.24,253.58 L623.69,254.74 L627.15,255.89 L630.60,257.02 L634.06,258.13 L637.51,259.23 L640.97,260.30 L644.42,261.35 L647.88,262.38 L651.33,263.39 L654.79,264.38 L658.24,265.36 L661.70,266.31 L665.15,267.24 L668.61,268.14 L672.06,269.03 L675.52,269.90 L678.97,270.74 L682.43,271.56 L685.88,272.36 L689.34,273.14 L692.79,273.90 L696.25,274.63 L699.71,275.35 L703.16,276.04 L706.62,276.70 L710.07,277.35 L713.53,277.97 L716.98,278.57 L720.44,279.14 L723.89,279.69 L727.35,280.22 L730.80,280.73 L734.26,281.21 L737.71,281.67 L741.17,282.10 L744.62,282.52 L748.08,282.90 L751.53,283.27 L754.99,283.61 L758.44,283.93 L761.90,284.22 L765.35,284.49 L768.81,284.73 L772.27,284.95 L775.72,285.15 L779.18,285.32 L782.63,285.47 L786.09,285.59 L789.54,285.69 L793.00,285.77 L796.45,285.82 L799.91,285.85 L803.36,285.85 L806.82,285.83 L810.27,285.79 L813.73,285.72 L817.18,285.62 L820.64,285.51 L824.09,285.36 L827.55,285.20 L831.00,285.01 L834.46,284.79 L837.91,284.56 L841.37,284.29 L844.83,284.01 L848.28,283.70 L851.74,283.36 L855.19,283.01 L858.65,282.62 L862.10,282.22 L865.56,281.79 L869.01,281.34 L872.47,280.86 L875.92,280.36 L879.38,279.84 L882.83,279.29 L886.29,278.73 L889.74,278.13 L893.20,277.52 L896.65,276.88 L900.11,276.22 L903.56,275.54 L907.02,274.83 L910.47,274.10 L913.93,273.35 L917.38,272.58 L920.84,271.78 L924.30,270.97 L927.75,270.13 L931.21,269.27 L934.66,268.39 L938.12,267.49 L941.57,266.56 L945.03,265.62 L948.48,264.65 L951.94,263.67 L955.39,262.66 L958.85,261.63 L962.30,260.59 L965.76,259.52 L969.21,258.43 L972.67,257.33 L976.12,256.20 L979.58,255.06 L983.03,253.90 L986.49,252.72 L989.94,251.52 L993.40,250.30 L997.64,248.80'/>
<rect x='150.5' y='64.6' width='860.4' height='532.3' fill='none' stroke='#000' stroke-width='2.9'/>
<path d='M167.80,595.6v-4.4 M167.80,65.9v4.4 M209.09,595.6v-2.8 M209.09,65.9v2.8 M250.38,595.6v-2.8 M250.38,65.9v2.8 M291.67,595.6v-2.8 M291.67,65.9v2.8 M332.96,595.6v-4.4 M332.96,65.9v4.4 M374.25,595.6v-2.8 M374.25,65.9v2.8 M415.54,595.6v-2.8 M415.54,65.9v2.8 M456.83,595.6v-2.8 M456.83,65.9v2.8 M498.12,595.6v-4.4 M498.12,65.9v4.4 M539.41,595.6v-2.8 M539.41,65.9v2.8 M580.70,595.6v-2.8 M580.70,65.9v2.8 M621.99,595.6v-2.8 M621.99,65.9v2.8 M663.28,595.6v-4.4 M663.28,65.9v4.4 M704.57,595.6v-2.8 M704.57,65.9v2.8 M745.86,595.6v-2.8 M745.86,65.9v2.8 M787.15,595.6v-2.8 M787.15,65.9v2.8 M828.44,595.6v-4.4 M828.44,65.9v4.4 M869.73,595.6v-2.8 M869.73,65.9v2.8 M911.02,595.6v-2.8 M911.02,65.9v2.8 M952.31,595.6v-2.8 M952.31,65.9v2.8 M993.60,595.6v-4.4 M993.60,65.9v4.4 M151.9,569.20h4.0 M1009.2,569.20h-4.0 M151.9,537.38h1.9 M1009.2,537.38h-1.9 M151.9,505.56h1.9 M1009.2,505.56h-1.9 M151.9,473.74h1.9 M1009.2,473.74h-1.9 M151.9,441.92h1.9 M1009.2,441.92h-1.9 M151.9,410.10h4.0 M1009.2,410.10h-4.0 M151.9,378.28h1.9 M1009.2,378.28h-1.9 M151.9,346.46h1.9 M1009.2,346.46h-1.9 M151.9,314.64h1.9 M1009.2,314.64h-1.9 M151.9,282.82h1.9 M1009.2,282.82h-1.9 M151.9,251.00h4.0 M1009.2,251.00h-4.0 M151.9,219.18h1.9 M1009.2,219.18h-1.9 M151.9,187.36h1.9 M1009.2,187.36h-1.9 M151.9,155.54h1.9 M1009.2,155.54h-1.9 M151.9,123.72h1.9 M1009.2,123.72h-1.9 M151.9,91.90h4.0 M1009.2,91.90h-4.0' stroke='#555' stroke-width='2.5' fill='none'/>
<text transform='matrix(1.0000,0,0,1.0118,136.75,642.49)' font-family='Liberation Sans' font-size='42' >0.0</text>
<text transform='matrix(1.0000,0,0,1.0118,302.45,642.49)' font-family='Liberation Sans' font-size='42' >0.2</text>
<text transform='matrix(1.0000,0,0,1.0118,466.65,642.49)' font-family='Liberation Sans' font-size='42' >0.4</text>
<text transform='matrix(1.0000,0,0,1.0118,632.60,642.49)' font-family='Liberation Sans' font-size='42' >0.6</text>
<text transform='matrix(1.0000,0,0,1.0118,797.80,642.49)' font-family='Liberation Sans' font-size='42' >0.8</text>
<g transform='matrix(1.0000,0,0,1.0118,962.75,642.49)'><text font-family='Liberation Sans' font-size='42' >1.0</text><rect x='1.80' y='-5' width='8.65' height='5.8' fill='#fff'/><rect x='14.45' y='-5' width='8.55' height='5.8' fill='#fff'/></g>
<g transform='matrix(1.0000,0,0,1.0084,80.25,104.00)'><text font-family='Liberation Sans' font-size='42' >1.0</text><rect x='1.80' y='-5' width='8.65' height='5.8' fill='#fff'/><rect x='14.45' y='-5' width='8.55' height='5.8' fill='#fff'/></g>
<text transform='matrix(1.0000,0,0,1.0084,80.50,264.70)' font-family='Liberation Sans' font-size='42' >0.5</text>
<text transform='matrix(1.0000,0,0,1.0084,80.25,423.30)' font-family='Liberation Sans' font-size='42' >0.0</text>
<text transform='matrix(1.0000,0,0,1.0084,80.50,583.40)' font-family='Liberation Sans' font-size='42' >0.5</text>
<rect x='57.6' y='571.3' width='19.50' height='3.80' fill='#000'/>
<text transform='matrix(1.0602,0,0,0.9696,568.20,703.62)' font-family='Liberation Sans' font-size='42' font-style='italic'>η</text>
<text transform='translate(33.30,369.64) rotate(-90) scale(1.0390,1.0504)' font-family='Liberation Sans' font-size='42' >F</text>
<text transform='translate(33.43,342.28) rotate(-90) scale(0.8727,0.9911)' font-family='Liberation Sans' font-size='42' >(</text>
<text transform='translate(33.36,326.16) rotate(-90) scale(1.0169,0.9536)' font-family='Liberation Sans' font-size='42' font-style='italic'>η</text>
<text transform='translate(33.43,302.93) rotate(-90) scale(0.9156,0.9911)' font-family='Liberation Sans' font-size='42' >)</text>
<rect x='175.9' y='452.7' width='343' height='126' rx='9' ry='9' fill='#fff' stroke='#000' stroke-width='2.6'/>
<path d='M194.4,485.1H239.8' stroke='#00ffff' stroke-width='4.5' stroke-linecap='round'/>
<path d='M192.3,547.1H241.3' stroke='#ff00ff' stroke-width='4.3' stroke-dasharray='19 21.5'/>
<text transform='matrix(0.8668,0,0,0.8639,260.05,492.87)' font-family='Liberation Sans' font-size='42' >Copper</text>
<rect x='381.5' y='483.1' width='17.60' height='2.80' fill='#000'/>
<text transform='matrix(0.9123,0,0,0.8639,401.17,492.87)' font-family='Liberation Sans' font-size='42' >Water</text>
<text transform='matrix(0.8577,0,0,0.8639,259.88,554.87)' font-family='Liberation Sans' font-size='42' >Silver</text>
<rect x='352.8' y='545.1' width='17.00' height='2.80' fill='#000'/>
<text transform='matrix(0.8986,0,0,0.8639,373.88,554.87)' font-family='Liberation Sans' font-size='42' >Water</text>
<text transform='matrix(0.8681,0,0,0.8874,868.26,341.16)' font-family='Liberation Sans' font-size='42' >S=0.5</text>
<text transform='matrix(0.8744,0,0,0.8504,876.75,438.77)' font-family='Liberation Sans' font-size='42' >S=−0.5</text>
<text transform='matrix(0.9204,0,0,0.8261,719.12,121.29)' font-family='Liberation Sans' font-size='42' font-style='italic'>α</text>
<text transform='matrix(0.8537,0,0,0.7852,750.79,123.90)' font-family='Liberation Sans' font-size='42' >=</text>
<text transform='matrix(0.8100,0,0,0.8370,781.78,121.28)' font-family='Liberation Sans' font-size='42' >0</text>
<g transform='matrix(0.8370,0,0,0.8370,841.28,121.28)'><text font-family='Liberation Sans' font-size='42' >1</text><rect x='1.80' y='-5' width='8.65' height='5.8' fill='#fff'/><rect x='14.45' y='-5' width='8.55' height='5.8' fill='#fff'/></g>
<text transform='matrix(0.8152,0,0,0.8370,900.57,121.28)' font-family='Liberation Sans' font-size='42' >3</text>
<text transform='matrix(0.8152,0,0,0.8370,959.87,121.28)' font-family='Liberation Sans' font-size='42' >5</text>
<text transform='matrix(0.6600,0,0,0.6521,801.14,105.67)' font-family='Liberation Sans' font-size='42' >0</text>
<text transform='matrix(0.5150,0,0,0.6521,863.00,105.67)' font-family='Liberation Sans' font-size='42' >0</text>
<text transform='matrix(0.6600,0,0,0.6521,920.64,105.67)' font-family='Liberation Sans' font-size='42' >0</text>
<text transform='matrix(0.5500,0,0,0.6521,980.14,105.67)' font-family='Liberation Sans' font-size='42' >0</text>
<text transform='matrix(0.8370,0,0,0.8370,819.45,121.70)' font-family='Liberation Sans' font-size='42' >,</text>
<text transform='matrix(0.8370,0,0,0.8370,879.65,121.70)' font-family='Liberation Sans' font-size='42' >,</text>
<text transform='matrix(0.8370,0,0,0.8370,938.15,121.70)' font-family='Liberation Sans' font-size='42' >,</text>
<ellipse cx='916.2' cy='248.6' rx='37.7' ry='49.3' fill='none' stroke='#000' stroke-width='2.8'/>
<ellipse cx='912.4' cy='503.9' rx='39.7' ry='45.3' fill='none' stroke='#000' stroke-width='2.8'/>
<path d='M881.2,161.7 L778.8,293.5' stroke='#000' stroke-width='2.7' fill='none'/><path d='M760.6,317.0 L773.5,285.7 L778.8,293.5 L787.3,296.3 Z' fill='#000'/>
<path d='M809.8,339.8 L702.3,483.7' stroke='#000' stroke-width='2.7' fill='none'/><path d='M685.2,508.0 L696.7,476.8 L702.3,483.7 L711.2,486.7 Z' fill='#000'/>
</svg></body></html>
